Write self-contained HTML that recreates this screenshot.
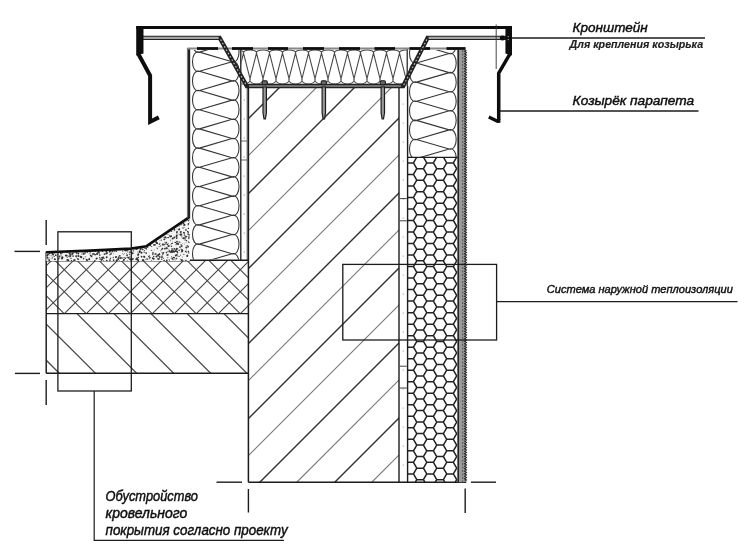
<!DOCTYPE html>
<html lang="ru">
<head>
<meta charset="utf-8">
<title>Узел парапета</title>
<style>
html,body{margin:0;padding:0;background:#fff;}
body{width:750px;height:553px;overflow:hidden;font-family:"Liberation Sans",sans-serif;}
svg{display:block;}
</style>
</head>
<body>
<svg width="750" height="553" viewBox="0 0 750 553" stroke-linecap="butt">
<defs>
<clipPath id="cw"><path d="M248.4 85.5H399.0V482.2H248.4Z"/></clipPath>
<clipPath id="cs"><path d="M46.2 313.6H248.4V373.2H46.2Z"/></clipPath>
<clipPath id="cx"><path d="M46.2 261.0H248.4V313.6H46.2Z"/></clipPath>
<clipPath id="ch"><path d="M407.4 157.4H457.2V482.2H407.4Z"/></clipPath>
<clipPath id="cwl"><path d="M191.5 50H240.0V259.5H191.5Z"/></clipPath>
<clipPath id="cwr"><path d="M408.5 50H457.2V157H408.5Z"/></clipPath>
<clipPath id="cwt"><path d="M241.5 49H406.5V85H241.5Z"/></clipPath>
<clipPath id="csc"><path d="M46.2 252.5 L131 249.5 L147 247 L189.5 218.5 L189.5 261.0 L46.2 261.0 Z"/></clipPath>
<filter id="soft" x="-2%" y="-2%" width="104%" height="104%"><feGaussianBlur stdDeviation="0.55"/></filter>
</defs>
<rect width="750" height="553" fill="#ffffff"/>
<g filter="url(#soft)">
<g clip-path="url(#cw)">
<line x1="-308.00" y1="600.00" x2="292.00" y2="0.00" stroke="#333" stroke-width="1.45" />
<line x1="-271.00" y1="600.00" x2="329.00" y2="0.00" stroke="#787878" stroke-width="1.2" />
<line x1="-233.00" y1="600.00" x2="367.00" y2="0.00" stroke="#333" stroke-width="1.45" />
<line x1="-196.00" y1="600.00" x2="404.00" y2="0.00" stroke="#787878" stroke-width="1.2" />
<line x1="-158.00" y1="600.00" x2="442.00" y2="0.00" stroke="#333" stroke-width="1.45" />
<line x1="-121.00" y1="600.00" x2="479.00" y2="0.00" stroke="#787878" stroke-width="1.2" />
<line x1="-83.00" y1="600.00" x2="517.00" y2="0.00" stroke="#333" stroke-width="1.45" />
<line x1="-46.00" y1="600.00" x2="554.00" y2="0.00" stroke="#787878" stroke-width="1.2" />
<line x1="-8.00" y1="600.00" x2="592.00" y2="0.00" stroke="#333" stroke-width="1.45" />
<line x1="29.00" y1="600.00" x2="629.00" y2="0.00" stroke="#787878" stroke-width="1.2" />
<line x1="67.00" y1="600.00" x2="667.00" y2="0.00" stroke="#333" stroke-width="1.45" />
<line x1="104.00" y1="600.00" x2="704.00" y2="0.00" stroke="#787878" stroke-width="1.2" />
<line x1="142.00" y1="600.00" x2="742.00" y2="0.00" stroke="#333" stroke-width="1.45" />
<line x1="179.00" y1="600.00" x2="779.00" y2="0.00" stroke="#787878" stroke-width="1.2" />
<line x1="217.00" y1="600.00" x2="817.00" y2="0.00" stroke="#333" stroke-width="1.45" />
<line x1="254.00" y1="600.00" x2="854.00" y2="0.00" stroke="#787878" stroke-width="1.2" />
<line x1="292.00" y1="600.00" x2="892.00" y2="0.00" stroke="#333" stroke-width="1.45" />
<line x1="329.00" y1="600.00" x2="929.00" y2="0.00" stroke="#787878" stroke-width="1.2" />
<line x1="367.00" y1="600.00" x2="967.00" y2="0.00" stroke="#333" stroke-width="1.45" />
<line x1="404.00" y1="600.00" x2="1004.00" y2="0.00" stroke="#787878" stroke-width="1.2" />
</g>
<g clip-path="url(#cs)">
<line x1="-20.40" y1="293.60" x2="79.60" y2="393.60" stroke="#484848" stroke-width="1.25" />
<line x1="15.80" y1="293.60" x2="115.80" y2="393.60" stroke="#484848" stroke-width="1.25" />
<line x1="57.00" y1="293.60" x2="157.00" y2="393.60" stroke="#484848" stroke-width="1.25" />
<line x1="94.00" y1="293.60" x2="194.00" y2="393.60" stroke="#484848" stroke-width="1.25" />
<line x1="131.00" y1="293.60" x2="231.00" y2="393.60" stroke="#484848" stroke-width="1.25" />
<line x1="167.20" y1="293.60" x2="267.20" y2="393.60" stroke="#484848" stroke-width="1.25" />
<line x1="204.00" y1="293.60" x2="304.00" y2="393.60" stroke="#484848" stroke-width="1.25" />
</g>
<g clip-path="url(#cx)">
<line x1="-110.00" y1="400.00" x2="90.00" y2="200.00" stroke="#444" stroke-width="1.1" />
<line x1="-71.50" y1="200.00" x2="128.50" y2="400.00" stroke="#444" stroke-width="1.1" />
<line x1="-88.00" y1="400.00" x2="112.00" y2="200.00" stroke="#444" stroke-width="1.1" />
<line x1="-49.50" y1="200.00" x2="150.50" y2="400.00" stroke="#444" stroke-width="1.1" />
<line x1="-66.00" y1="400.00" x2="134.00" y2="200.00" stroke="#444" stroke-width="1.1" />
<line x1="-27.50" y1="200.00" x2="172.50" y2="400.00" stroke="#444" stroke-width="1.1" />
<line x1="-44.00" y1="400.00" x2="156.00" y2="200.00" stroke="#444" stroke-width="1.1" />
<line x1="-5.50" y1="200.00" x2="194.50" y2="400.00" stroke="#444" stroke-width="1.1" />
<line x1="-22.00" y1="400.00" x2="178.00" y2="200.00" stroke="#444" stroke-width="1.1" />
<line x1="16.50" y1="200.00" x2="216.50" y2="400.00" stroke="#444" stroke-width="1.1" />
<line x1="0.00" y1="400.00" x2="200.00" y2="200.00" stroke="#444" stroke-width="1.1" />
<line x1="38.50" y1="200.00" x2="238.50" y2="400.00" stroke="#444" stroke-width="1.1" />
<line x1="22.00" y1="400.00" x2="222.00" y2="200.00" stroke="#444" stroke-width="1.1" />
<line x1="60.50" y1="200.00" x2="260.50" y2="400.00" stroke="#444" stroke-width="1.1" />
<line x1="44.00" y1="400.00" x2="244.00" y2="200.00" stroke="#444" stroke-width="1.1" />
<line x1="82.50" y1="200.00" x2="282.50" y2="400.00" stroke="#444" stroke-width="1.1" />
<line x1="66.00" y1="400.00" x2="266.00" y2="200.00" stroke="#444" stroke-width="1.1" />
<line x1="104.50" y1="200.00" x2="304.50" y2="400.00" stroke="#444" stroke-width="1.1" />
<line x1="88.00" y1="400.00" x2="288.00" y2="200.00" stroke="#444" stroke-width="1.1" />
<line x1="126.50" y1="200.00" x2="326.50" y2="400.00" stroke="#444" stroke-width="1.1" />
<line x1="110.00" y1="400.00" x2="310.00" y2="200.00" stroke="#444" stroke-width="1.1" />
<line x1="148.50" y1="200.00" x2="348.50" y2="400.00" stroke="#444" stroke-width="1.1" />
<line x1="132.00" y1="400.00" x2="332.00" y2="200.00" stroke="#444" stroke-width="1.1" />
<line x1="170.50" y1="200.00" x2="370.50" y2="400.00" stroke="#444" stroke-width="1.1" />
<line x1="154.00" y1="400.00" x2="354.00" y2="200.00" stroke="#444" stroke-width="1.1" />
<line x1="192.50" y1="200.00" x2="392.50" y2="400.00" stroke="#444" stroke-width="1.1" />
<line x1="176.00" y1="400.00" x2="376.00" y2="200.00" stroke="#444" stroke-width="1.1" />
<line x1="214.50" y1="200.00" x2="414.50" y2="400.00" stroke="#444" stroke-width="1.1" />
<line x1="198.00" y1="400.00" x2="398.00" y2="200.00" stroke="#444" stroke-width="1.1" />
<line x1="236.50" y1="200.00" x2="436.50" y2="400.00" stroke="#444" stroke-width="1.1" />
<line x1="220.00" y1="400.00" x2="420.00" y2="200.00" stroke="#444" stroke-width="1.1" />
<line x1="258.50" y1="200.00" x2="458.50" y2="400.00" stroke="#444" stroke-width="1.1" />
<line x1="242.00" y1="400.00" x2="442.00" y2="200.00" stroke="#444" stroke-width="1.1" />
<line x1="280.50" y1="200.00" x2="480.50" y2="400.00" stroke="#444" stroke-width="1.1" />
</g>
<g clip-path="url(#ch)" stroke="#222" stroke-width="1.5" fill="none" stroke-linejoin="round">
<path d="M406.80 139.86L403.48 145.62L396.83 145.62L393.50 139.86L396.83 134.10L403.48 134.10ZM406.80 151.38L403.48 157.14L396.83 157.14L393.50 151.38L396.83 145.62L403.48 145.62ZM406.80 162.90L403.48 168.66L396.83 168.66L393.50 162.90L396.83 157.14L403.48 157.14ZM406.80 174.42L403.48 180.18L396.83 180.18L393.50 174.42L396.83 168.66L403.48 168.66ZM406.80 185.94L403.48 191.70L396.83 191.70L393.50 185.94L396.83 180.18L403.48 180.18ZM406.80 197.45L403.48 203.21L396.83 203.21L393.50 197.45L396.83 191.70L403.48 191.70ZM406.80 208.97L403.48 214.73L396.83 214.73L393.50 208.97L396.83 203.21L403.48 203.21ZM406.80 220.49L403.48 226.25L396.83 226.25L393.50 220.49L396.83 214.73L403.48 214.73ZM406.80 232.01L403.48 237.77L396.83 237.77L393.50 232.01L396.83 226.25L403.48 226.25ZM406.80 243.53L403.48 249.29L396.83 249.29L393.50 243.53L396.83 237.77L403.48 237.77ZM406.80 255.05L403.48 260.80L396.83 260.80L393.50 255.05L396.83 249.29L403.48 249.29ZM406.80 266.56L403.48 272.32L396.83 272.32L393.50 266.56L396.83 260.80L403.48 260.80ZM406.80 278.08L403.48 283.84L396.83 283.84L393.50 278.08L396.83 272.32L403.48 272.32ZM406.80 289.60L403.48 295.36L396.83 295.36L393.50 289.60L396.83 283.84L403.48 283.84ZM406.80 301.12L403.48 306.88L396.83 306.88L393.50 301.12L396.83 295.36L403.48 295.36ZM406.80 312.64L403.48 318.39L396.83 318.39L393.50 312.64L396.83 306.88L403.48 306.88ZM406.80 324.15L403.48 329.91L396.83 329.91L393.50 324.15L396.83 318.39L403.48 318.39ZM406.80 335.67L403.48 341.43L396.83 341.43L393.50 335.67L396.83 329.91L403.48 329.91ZM406.80 347.19L403.48 352.95L396.83 352.95L393.50 347.19L396.83 341.43L403.48 341.43ZM406.80 358.71L403.48 364.47L396.83 364.47L393.50 358.71L396.83 352.95L403.48 352.95ZM406.80 370.23L403.48 375.99L396.83 375.99L393.50 370.23L396.83 364.47L403.48 364.47ZM406.80 381.74L403.48 387.50L396.83 387.50L393.50 381.74L396.83 375.99L403.48 375.99ZM406.80 393.26L403.48 399.02L396.83 399.02L393.50 393.26L396.83 387.50L403.48 387.50ZM406.80 404.78L403.48 410.54L396.83 410.54L393.50 404.78L396.83 399.02L403.48 399.02ZM406.80 416.30L403.48 422.06L396.83 422.06L393.50 416.30L396.83 410.54L403.48 410.54ZM406.80 427.82L403.48 433.58L396.83 433.58L393.50 427.82L396.83 422.06L403.48 422.06ZM406.80 439.34L403.48 445.09L396.83 445.09L393.50 439.34L396.83 433.58L403.48 433.58ZM406.80 450.85L403.48 456.61L396.83 456.61L393.50 450.85L396.83 445.09L403.48 445.09ZM406.80 462.37L403.48 468.13L396.83 468.13L393.50 462.37L396.83 456.61L403.48 456.61ZM406.80 473.89L403.48 479.65L396.83 479.65L393.50 473.89L396.83 468.13L403.48 468.13ZM406.80 485.41L403.48 491.17L396.83 491.17L393.50 485.41L396.83 479.65L403.48 479.65ZM406.80 496.93L403.48 502.69L396.83 502.69L393.50 496.93L396.83 491.17L403.48 491.17ZM416.77 145.62L413.45 151.38L406.80 151.38L403.48 145.62L406.80 139.86L413.45 139.86ZM416.77 157.14L413.45 162.90L406.80 162.90L403.48 157.14L406.80 151.38L413.45 151.38ZM416.77 168.66L413.45 174.42L406.80 174.42L403.48 168.66L406.80 162.90L413.45 162.90ZM416.77 180.18L413.45 185.94L406.80 185.94L403.48 180.18L406.80 174.42L413.45 174.42ZM416.77 191.70L413.45 197.45L406.80 197.45L403.48 191.70L406.80 185.94L413.45 185.94ZM416.77 203.21L413.45 208.97L406.80 208.97L403.48 203.21L406.80 197.45L413.45 197.45ZM416.77 214.73L413.45 220.49L406.80 220.49L403.48 214.73L406.80 208.97L413.45 208.97ZM416.77 226.25L413.45 232.01L406.80 232.01L403.48 226.25L406.80 220.49L413.45 220.49ZM416.77 237.77L413.45 243.53L406.80 243.53L403.48 237.77L406.80 232.01L413.45 232.01ZM416.77 249.29L413.45 255.05L406.80 255.05L403.48 249.29L406.80 243.53L413.45 243.53ZM416.77 260.80L413.45 266.56L406.80 266.56L403.48 260.80L406.80 255.05L413.45 255.05ZM416.77 272.32L413.45 278.08L406.80 278.08L403.48 272.32L406.80 266.56L413.45 266.56ZM416.77 283.84L413.45 289.60L406.80 289.60L403.48 283.84L406.80 278.08L413.45 278.08ZM416.77 295.36L413.45 301.12L406.80 301.12L403.48 295.36L406.80 289.60L413.45 289.60ZM416.77 306.88L413.45 312.64L406.80 312.64L403.48 306.88L406.80 301.12L413.45 301.12ZM416.77 318.39L413.45 324.15L406.80 324.15L403.48 318.39L406.80 312.64L413.45 312.64ZM416.77 329.91L413.45 335.67L406.80 335.67L403.48 329.91L406.80 324.15L413.45 324.15ZM416.77 341.43L413.45 347.19L406.80 347.19L403.48 341.43L406.80 335.67L413.45 335.67ZM416.77 352.95L413.45 358.71L406.80 358.71L403.48 352.95L406.80 347.19L413.45 347.19ZM416.77 364.47L413.45 370.23L406.80 370.23L403.48 364.47L406.80 358.71L413.45 358.71ZM416.77 375.99L413.45 381.74L406.80 381.74L403.48 375.99L406.80 370.23L413.45 370.23ZM416.77 387.50L413.45 393.26L406.80 393.26L403.48 387.50L406.80 381.74L413.45 381.74ZM416.77 399.02L413.45 404.78L406.80 404.78L403.48 399.02L406.80 393.26L413.45 393.26ZM416.77 410.54L413.45 416.30L406.80 416.30L403.48 410.54L406.80 404.78L413.45 404.78ZM416.77 422.06L413.45 427.82L406.80 427.82L403.48 422.06L406.80 416.30L413.45 416.30ZM416.77 433.58L413.45 439.34L406.80 439.34L403.48 433.58L406.80 427.82L413.45 427.82ZM416.77 445.09L413.45 450.85L406.80 450.85L403.48 445.09L406.80 439.34L413.45 439.34ZM416.77 456.61L413.45 462.37L406.80 462.37L403.48 456.61L406.80 450.85L413.45 450.85ZM416.77 468.13L413.45 473.89L406.80 473.89L403.48 468.13L406.80 462.37L413.45 462.37ZM416.77 479.65L413.45 485.41L406.80 485.41L403.48 479.65L406.80 473.89L413.45 473.89ZM416.77 491.17L413.45 496.93L406.80 496.93L403.48 491.17L406.80 485.41L413.45 485.41ZM416.77 502.69L413.45 508.44L406.80 508.44L403.48 502.69L406.80 496.93L413.45 496.93ZM426.75 139.86L423.43 145.62L416.78 145.62L413.45 139.86L416.78 134.10L423.43 134.10ZM426.75 151.38L423.43 157.14L416.78 157.14L413.45 151.38L416.78 145.62L423.43 145.62ZM426.75 162.90L423.43 168.66L416.78 168.66L413.45 162.90L416.78 157.14L423.43 157.14ZM426.75 174.42L423.43 180.18L416.78 180.18L413.45 174.42L416.78 168.66L423.43 168.66ZM426.75 185.94L423.43 191.70L416.78 191.70L413.45 185.94L416.78 180.18L423.43 180.18ZM426.75 197.45L423.43 203.21L416.78 203.21L413.45 197.45L416.78 191.70L423.43 191.70ZM426.75 208.97L423.43 214.73L416.78 214.73L413.45 208.97L416.78 203.21L423.43 203.21ZM426.75 220.49L423.43 226.25L416.78 226.25L413.45 220.49L416.78 214.73L423.43 214.73ZM426.75 232.01L423.43 237.77L416.78 237.77L413.45 232.01L416.78 226.25L423.43 226.25ZM426.75 243.53L423.43 249.29L416.78 249.29L413.45 243.53L416.78 237.77L423.43 237.77ZM426.75 255.05L423.43 260.80L416.78 260.80L413.45 255.05L416.78 249.29L423.43 249.29ZM426.75 266.56L423.43 272.32L416.78 272.32L413.45 266.56L416.78 260.80L423.43 260.80ZM426.75 278.08L423.43 283.84L416.78 283.84L413.45 278.08L416.78 272.32L423.43 272.32ZM426.75 289.60L423.43 295.36L416.78 295.36L413.45 289.60L416.78 283.84L423.43 283.84ZM426.75 301.12L423.43 306.88L416.78 306.88L413.45 301.12L416.78 295.36L423.43 295.36ZM426.75 312.64L423.43 318.39L416.78 318.39L413.45 312.64L416.78 306.88L423.43 306.88ZM426.75 324.15L423.43 329.91L416.78 329.91L413.45 324.15L416.78 318.39L423.43 318.39ZM426.75 335.67L423.43 341.43L416.78 341.43L413.45 335.67L416.78 329.91L423.43 329.91ZM426.75 347.19L423.43 352.95L416.78 352.95L413.45 347.19L416.78 341.43L423.43 341.43ZM426.75 358.71L423.43 364.47L416.78 364.47L413.45 358.71L416.78 352.95L423.43 352.95ZM426.75 370.23L423.43 375.99L416.78 375.99L413.45 370.23L416.78 364.47L423.43 364.47ZM426.75 381.74L423.43 387.50L416.78 387.50L413.45 381.74L416.78 375.99L423.43 375.99ZM426.75 393.26L423.43 399.02L416.78 399.02L413.45 393.26L416.78 387.50L423.43 387.50ZM426.75 404.78L423.43 410.54L416.78 410.54L413.45 404.78L416.78 399.02L423.43 399.02ZM426.75 416.30L423.43 422.06L416.78 422.06L413.45 416.30L416.78 410.54L423.43 410.54ZM426.75 427.82L423.43 433.58L416.78 433.58L413.45 427.82L416.78 422.06L423.43 422.06ZM426.75 439.34L423.43 445.09L416.78 445.09L413.45 439.34L416.78 433.58L423.43 433.58ZM426.75 450.85L423.43 456.61L416.78 456.61L413.45 450.85L416.78 445.09L423.43 445.09ZM426.75 462.37L423.43 468.13L416.78 468.13L413.45 462.37L416.78 456.61L423.43 456.61ZM426.75 473.89L423.43 479.65L416.78 479.65L413.45 473.89L416.78 468.13L423.43 468.13ZM426.75 485.41L423.43 491.17L416.78 491.17L413.45 485.41L416.78 479.65L423.43 479.65ZM426.75 496.93L423.43 502.69L416.78 502.69L413.45 496.93L416.78 491.17L423.43 491.17ZM436.73 145.62L433.40 151.38L426.75 151.38L423.43 145.62L426.75 139.86L433.40 139.86ZM436.73 157.14L433.40 162.90L426.75 162.90L423.43 157.14L426.75 151.38L433.40 151.38ZM436.73 168.66L433.40 174.42L426.75 174.42L423.43 168.66L426.75 162.90L433.40 162.90ZM436.73 180.18L433.40 185.94L426.75 185.94L423.43 180.18L426.75 174.42L433.40 174.42ZM436.73 191.70L433.40 197.45L426.75 197.45L423.43 191.70L426.75 185.94L433.40 185.94ZM436.73 203.21L433.40 208.97L426.75 208.97L423.43 203.21L426.75 197.45L433.40 197.45ZM436.73 214.73L433.40 220.49L426.75 220.49L423.43 214.73L426.75 208.97L433.40 208.97ZM436.73 226.25L433.40 232.01L426.75 232.01L423.43 226.25L426.75 220.49L433.40 220.49ZM436.73 237.77L433.40 243.53L426.75 243.53L423.43 237.77L426.75 232.01L433.40 232.01ZM436.73 249.29L433.40 255.05L426.75 255.05L423.43 249.29L426.75 243.53L433.40 243.53ZM436.73 260.80L433.40 266.56L426.75 266.56L423.43 260.80L426.75 255.05L433.40 255.05ZM436.73 272.32L433.40 278.08L426.75 278.08L423.43 272.32L426.75 266.56L433.40 266.56ZM436.73 283.84L433.40 289.60L426.75 289.60L423.43 283.84L426.75 278.08L433.40 278.08ZM436.73 295.36L433.40 301.12L426.75 301.12L423.43 295.36L426.75 289.60L433.40 289.60ZM436.73 306.88L433.40 312.64L426.75 312.64L423.43 306.88L426.75 301.12L433.40 301.12ZM436.73 318.39L433.40 324.15L426.75 324.15L423.43 318.39L426.75 312.64L433.40 312.64ZM436.73 329.91L433.40 335.67L426.75 335.67L423.43 329.91L426.75 324.15L433.40 324.15ZM436.73 341.43L433.40 347.19L426.75 347.19L423.43 341.43L426.75 335.67L433.40 335.67ZM436.73 352.95L433.40 358.71L426.75 358.71L423.43 352.95L426.75 347.19L433.40 347.19ZM436.73 364.47L433.40 370.23L426.75 370.23L423.43 364.47L426.75 358.71L433.40 358.71ZM436.73 375.99L433.40 381.74L426.75 381.74L423.43 375.99L426.75 370.23L433.40 370.23ZM436.73 387.50L433.40 393.26L426.75 393.26L423.43 387.50L426.75 381.74L433.40 381.74ZM436.73 399.02L433.40 404.78L426.75 404.78L423.43 399.02L426.75 393.26L433.40 393.26ZM436.73 410.54L433.40 416.30L426.75 416.30L423.43 410.54L426.75 404.78L433.40 404.78ZM436.73 422.06L433.40 427.82L426.75 427.82L423.43 422.06L426.75 416.30L433.40 416.30ZM436.73 433.58L433.40 439.34L426.75 439.34L423.43 433.58L426.75 427.82L433.40 427.82ZM436.73 445.09L433.40 450.85L426.75 450.85L423.43 445.09L426.75 439.34L433.40 439.34ZM436.73 456.61L433.40 462.37L426.75 462.37L423.43 456.61L426.75 450.85L433.40 450.85ZM436.73 468.13L433.40 473.89L426.75 473.89L423.43 468.13L426.75 462.37L433.40 462.37ZM436.73 479.65L433.40 485.41L426.75 485.41L423.43 479.65L426.75 473.89L433.40 473.89ZM436.73 491.17L433.40 496.93L426.75 496.93L423.43 491.17L426.75 485.41L433.40 485.41ZM436.73 502.69L433.40 508.44L426.75 508.44L423.43 502.69L426.75 496.93L433.40 496.93ZM446.70 139.86L443.38 145.62L436.73 145.62L433.40 139.86L436.73 134.10L443.38 134.10ZM446.70 151.38L443.38 157.14L436.73 157.14L433.40 151.38L436.73 145.62L443.38 145.62ZM446.70 162.90L443.38 168.66L436.73 168.66L433.40 162.90L436.73 157.14L443.38 157.14ZM446.70 174.42L443.38 180.18L436.73 180.18L433.40 174.42L436.73 168.66L443.38 168.66ZM446.70 185.94L443.38 191.70L436.73 191.70L433.40 185.94L436.73 180.18L443.38 180.18ZM446.70 197.45L443.38 203.21L436.73 203.21L433.40 197.45L436.73 191.70L443.38 191.70ZM446.70 208.97L443.38 214.73L436.73 214.73L433.40 208.97L436.73 203.21L443.38 203.21ZM446.70 220.49L443.38 226.25L436.73 226.25L433.40 220.49L436.73 214.73L443.38 214.73ZM446.70 232.01L443.38 237.77L436.73 237.77L433.40 232.01L436.73 226.25L443.38 226.25ZM446.70 243.53L443.38 249.29L436.73 249.29L433.40 243.53L436.73 237.77L443.38 237.77ZM446.70 255.05L443.38 260.80L436.73 260.80L433.40 255.05L436.73 249.29L443.38 249.29ZM446.70 266.56L443.38 272.32L436.73 272.32L433.40 266.56L436.73 260.80L443.38 260.80ZM446.70 278.08L443.38 283.84L436.73 283.84L433.40 278.08L436.73 272.32L443.38 272.32ZM446.70 289.60L443.38 295.36L436.73 295.36L433.40 289.60L436.73 283.84L443.38 283.84ZM446.70 301.12L443.38 306.88L436.73 306.88L433.40 301.12L436.73 295.36L443.38 295.36ZM446.70 312.64L443.38 318.39L436.73 318.39L433.40 312.64L436.73 306.88L443.38 306.88ZM446.70 324.15L443.38 329.91L436.73 329.91L433.40 324.15L436.73 318.39L443.38 318.39ZM446.70 335.67L443.38 341.43L436.73 341.43L433.40 335.67L436.73 329.91L443.38 329.91ZM446.70 347.19L443.38 352.95L436.73 352.95L433.40 347.19L436.73 341.43L443.38 341.43ZM446.70 358.71L443.38 364.47L436.73 364.47L433.40 358.71L436.73 352.95L443.38 352.95ZM446.70 370.23L443.38 375.99L436.73 375.99L433.40 370.23L436.73 364.47L443.38 364.47ZM446.70 381.74L443.38 387.50L436.73 387.50L433.40 381.74L436.73 375.99L443.38 375.99ZM446.70 393.26L443.38 399.02L436.73 399.02L433.40 393.26L436.73 387.50L443.38 387.50ZM446.70 404.78L443.38 410.54L436.73 410.54L433.40 404.78L436.73 399.02L443.38 399.02ZM446.70 416.30L443.38 422.06L436.73 422.06L433.40 416.30L436.73 410.54L443.38 410.54ZM446.70 427.82L443.38 433.58L436.73 433.58L433.40 427.82L436.73 422.06L443.38 422.06ZM446.70 439.34L443.38 445.09L436.73 445.09L433.40 439.34L436.73 433.58L443.38 433.58ZM446.70 450.85L443.38 456.61L436.73 456.61L433.40 450.85L436.73 445.09L443.38 445.09ZM446.70 462.37L443.38 468.13L436.73 468.13L433.40 462.37L436.73 456.61L443.38 456.61ZM446.70 473.89L443.38 479.65L436.73 479.65L433.40 473.89L436.73 468.13L443.38 468.13ZM446.70 485.41L443.38 491.17L436.73 491.17L433.40 485.41L436.73 479.65L443.38 479.65ZM446.70 496.93L443.38 502.69L436.73 502.69L433.40 496.93L436.73 491.17L443.38 491.17ZM456.68 145.62L453.35 151.38L446.70 151.38L443.38 145.62L446.70 139.86L453.35 139.86ZM456.68 157.14L453.35 162.90L446.70 162.90L443.38 157.14L446.70 151.38L453.35 151.38ZM456.68 168.66L453.35 174.42L446.70 174.42L443.38 168.66L446.70 162.90L453.35 162.90ZM456.68 180.18L453.35 185.94L446.70 185.94L443.38 180.18L446.70 174.42L453.35 174.42ZM456.68 191.70L453.35 197.45L446.70 197.45L443.38 191.70L446.70 185.94L453.35 185.94ZM456.68 203.21L453.35 208.97L446.70 208.97L443.38 203.21L446.70 197.45L453.35 197.45ZM456.68 214.73L453.35 220.49L446.70 220.49L443.38 214.73L446.70 208.97L453.35 208.97ZM456.68 226.25L453.35 232.01L446.70 232.01L443.38 226.25L446.70 220.49L453.35 220.49ZM456.68 237.77L453.35 243.53L446.70 243.53L443.38 237.77L446.70 232.01L453.35 232.01ZM456.68 249.29L453.35 255.05L446.70 255.05L443.38 249.29L446.70 243.53L453.35 243.53ZM456.68 260.80L453.35 266.56L446.70 266.56L443.38 260.80L446.70 255.05L453.35 255.05ZM456.68 272.32L453.35 278.08L446.70 278.08L443.38 272.32L446.70 266.56L453.35 266.56ZM456.68 283.84L453.35 289.60L446.70 289.60L443.38 283.84L446.70 278.08L453.35 278.08ZM456.68 295.36L453.35 301.12L446.70 301.12L443.38 295.36L446.70 289.60L453.35 289.60ZM456.68 306.88L453.35 312.64L446.70 312.64L443.38 306.88L446.70 301.12L453.35 301.12ZM456.68 318.39L453.35 324.15L446.70 324.15L443.38 318.39L446.70 312.64L453.35 312.64ZM456.68 329.91L453.35 335.67L446.70 335.67L443.38 329.91L446.70 324.15L453.35 324.15ZM456.68 341.43L453.35 347.19L446.70 347.19L443.38 341.43L446.70 335.67L453.35 335.67ZM456.68 352.95L453.35 358.71L446.70 358.71L443.38 352.95L446.70 347.19L453.35 347.19ZM456.68 364.47L453.35 370.23L446.70 370.23L443.38 364.47L446.70 358.71L453.35 358.71ZM456.68 375.99L453.35 381.74L446.70 381.74L443.38 375.99L446.70 370.23L453.35 370.23ZM456.68 387.50L453.35 393.26L446.70 393.26L443.38 387.50L446.70 381.74L453.35 381.74ZM456.68 399.02L453.35 404.78L446.70 404.78L443.38 399.02L446.70 393.26L453.35 393.26ZM456.68 410.54L453.35 416.30L446.70 416.30L443.38 410.54L446.70 404.78L453.35 404.78ZM456.68 422.06L453.35 427.82L446.70 427.82L443.38 422.06L446.70 416.30L453.35 416.30ZM456.68 433.58L453.35 439.34L446.70 439.34L443.38 433.58L446.70 427.82L453.35 427.82ZM456.68 445.09L453.35 450.85L446.70 450.85L443.38 445.09L446.70 439.34L453.35 439.34ZM456.68 456.61L453.35 462.37L446.70 462.37L443.38 456.61L446.70 450.85L453.35 450.85ZM456.68 468.13L453.35 473.89L446.70 473.89L443.38 468.13L446.70 462.37L453.35 462.37ZM456.68 479.65L453.35 485.41L446.70 485.41L443.38 479.65L446.70 473.89L453.35 473.89ZM456.68 491.17L453.35 496.93L446.70 496.93L443.38 491.17L446.70 485.41L453.35 485.41ZM456.68 502.69L453.35 508.44L446.70 508.44L443.38 502.69L446.70 496.93L453.35 496.93ZM466.65 139.86L463.32 145.62L456.68 145.62L453.35 139.86L456.68 134.10L463.32 134.10ZM466.65 151.38L463.32 157.14L456.68 157.14L453.35 151.38L456.68 145.62L463.32 145.62ZM466.65 162.90L463.32 168.66L456.68 168.66L453.35 162.90L456.68 157.14L463.32 157.14ZM466.65 174.42L463.32 180.18L456.68 180.18L453.35 174.42L456.68 168.66L463.32 168.66ZM466.65 185.94L463.32 191.70L456.68 191.70L453.35 185.94L456.68 180.18L463.32 180.18ZM466.65 197.45L463.32 203.21L456.68 203.21L453.35 197.45L456.68 191.70L463.32 191.70ZM466.65 208.97L463.32 214.73L456.68 214.73L453.35 208.97L456.68 203.21L463.32 203.21ZM466.65 220.49L463.32 226.25L456.68 226.25L453.35 220.49L456.68 214.73L463.32 214.73ZM466.65 232.01L463.32 237.77L456.68 237.77L453.35 232.01L456.68 226.25L463.32 226.25ZM466.65 243.53L463.32 249.29L456.68 249.29L453.35 243.53L456.68 237.77L463.32 237.77ZM466.65 255.05L463.32 260.80L456.68 260.80L453.35 255.05L456.68 249.29L463.32 249.29ZM466.65 266.56L463.32 272.32L456.68 272.32L453.35 266.56L456.68 260.80L463.32 260.80ZM466.65 278.08L463.32 283.84L456.68 283.84L453.35 278.08L456.68 272.32L463.32 272.32ZM466.65 289.60L463.32 295.36L456.68 295.36L453.35 289.60L456.68 283.84L463.32 283.84ZM466.65 301.12L463.32 306.88L456.68 306.88L453.35 301.12L456.68 295.36L463.32 295.36ZM466.65 312.64L463.32 318.39L456.68 318.39L453.35 312.64L456.68 306.88L463.32 306.88ZM466.65 324.15L463.32 329.91L456.68 329.91L453.35 324.15L456.68 318.39L463.32 318.39ZM466.65 335.67L463.32 341.43L456.68 341.43L453.35 335.67L456.68 329.91L463.32 329.91ZM466.65 347.19L463.32 352.95L456.68 352.95L453.35 347.19L456.68 341.43L463.32 341.43ZM466.65 358.71L463.32 364.47L456.68 364.47L453.35 358.71L456.68 352.95L463.32 352.95ZM466.65 370.23L463.32 375.99L456.68 375.99L453.35 370.23L456.68 364.47L463.32 364.47ZM466.65 381.74L463.32 387.50L456.68 387.50L453.35 381.74L456.68 375.99L463.32 375.99ZM466.65 393.26L463.32 399.02L456.68 399.02L453.35 393.26L456.68 387.50L463.32 387.50ZM466.65 404.78L463.32 410.54L456.68 410.54L453.35 404.78L456.68 399.02L463.32 399.02ZM466.65 416.30L463.32 422.06L456.68 422.06L453.35 416.30L456.68 410.54L463.32 410.54ZM466.65 427.82L463.32 433.58L456.68 433.58L453.35 427.82L456.68 422.06L463.32 422.06ZM466.65 439.34L463.32 445.09L456.68 445.09L453.35 439.34L456.68 433.58L463.32 433.58ZM466.65 450.85L463.32 456.61L456.68 456.61L453.35 450.85L456.68 445.09L463.32 445.09ZM466.65 462.37L463.32 468.13L456.68 468.13L453.35 462.37L456.68 456.61L463.32 456.61ZM466.65 473.89L463.32 479.65L456.68 479.65L453.35 473.89L456.68 468.13L463.32 468.13ZM466.65 485.41L463.32 491.17L456.68 491.17L453.35 485.41L456.68 479.65L463.32 479.65ZM466.65 496.93L463.32 502.69L456.68 502.69L453.35 496.93L456.68 491.17L463.32 491.17ZM476.62 145.62L473.30 151.38L466.65 151.38L463.33 145.62L466.65 139.86L473.30 139.86ZM476.62 157.14L473.30 162.90L466.65 162.90L463.33 157.14L466.65 151.38L473.30 151.38ZM476.62 168.66L473.30 174.42L466.65 174.42L463.33 168.66L466.65 162.90L473.30 162.90ZM476.62 180.18L473.30 185.94L466.65 185.94L463.33 180.18L466.65 174.42L473.30 174.42ZM476.62 191.70L473.30 197.45L466.65 197.45L463.33 191.70L466.65 185.94L473.30 185.94ZM476.62 203.21L473.30 208.97L466.65 208.97L463.33 203.21L466.65 197.45L473.30 197.45ZM476.62 214.73L473.30 220.49L466.65 220.49L463.33 214.73L466.65 208.97L473.30 208.97ZM476.62 226.25L473.30 232.01L466.65 232.01L463.33 226.25L466.65 220.49L473.30 220.49ZM476.62 237.77L473.30 243.53L466.65 243.53L463.33 237.77L466.65 232.01L473.30 232.01ZM476.62 249.29L473.30 255.05L466.65 255.05L463.33 249.29L466.65 243.53L473.30 243.53ZM476.62 260.80L473.30 266.56L466.65 266.56L463.33 260.80L466.65 255.05L473.30 255.05ZM476.62 272.32L473.30 278.08L466.65 278.08L463.33 272.32L466.65 266.56L473.30 266.56ZM476.62 283.84L473.30 289.60L466.65 289.60L463.33 283.84L466.65 278.08L473.30 278.08ZM476.62 295.36L473.30 301.12L466.65 301.12L463.33 295.36L466.65 289.60L473.30 289.60ZM476.62 306.88L473.30 312.64L466.65 312.64L463.33 306.88L466.65 301.12L473.30 301.12ZM476.62 318.39L473.30 324.15L466.65 324.15L463.33 318.39L466.65 312.64L473.30 312.64ZM476.62 329.91L473.30 335.67L466.65 335.67L463.33 329.91L466.65 324.15L473.30 324.15ZM476.62 341.43L473.30 347.19L466.65 347.19L463.33 341.43L466.65 335.67L473.30 335.67ZM476.62 352.95L473.30 358.71L466.65 358.71L463.33 352.95L466.65 347.19L473.30 347.19ZM476.62 364.47L473.30 370.23L466.65 370.23L463.33 364.47L466.65 358.71L473.30 358.71ZM476.62 375.99L473.30 381.74L466.65 381.74L463.33 375.99L466.65 370.23L473.30 370.23ZM476.62 387.50L473.30 393.26L466.65 393.26L463.33 387.50L466.65 381.74L473.30 381.74ZM476.62 399.02L473.30 404.78L466.65 404.78L463.33 399.02L466.65 393.26L473.30 393.26ZM476.62 410.54L473.30 416.30L466.65 416.30L463.33 410.54L466.65 404.78L473.30 404.78ZM476.62 422.06L473.30 427.82L466.65 427.82L463.33 422.06L466.65 416.30L473.30 416.30ZM476.62 433.58L473.30 439.34L466.65 439.34L463.33 433.58L466.65 427.82L473.30 427.82ZM476.62 445.09L473.30 450.85L466.65 450.85L463.33 445.09L466.65 439.34L473.30 439.34ZM476.62 456.61L473.30 462.37L466.65 462.37L463.33 456.61L466.65 450.85L473.30 450.85ZM476.62 468.13L473.30 473.89L466.65 473.89L463.33 468.13L466.65 462.37L473.30 462.37ZM476.62 479.65L473.30 485.41L466.65 485.41L463.33 479.65L466.65 473.89L473.30 473.89ZM476.62 491.17L473.30 496.93L466.65 496.93L463.33 491.17L466.65 485.41L473.30 485.41ZM476.62 502.69L473.30 508.44L466.65 508.44L463.33 502.69L466.65 496.93L473.30 496.93Z"/>
</g>
<g clip-path="url(#cwl)"><path d="M232.03 4.10L199.47 -5.50C190.17 -8.24 190.17 16.44 199.47 13.70ZM199.47 13.70L232.03 4.10C241.33 1.36 241.33 26.04 232.03 23.30ZM232.03 23.30L199.47 13.70C190.17 10.96 190.17 35.64 199.47 32.90ZM199.47 32.90L232.03 23.30C241.33 20.56 241.33 45.24 232.03 42.50ZM232.03 42.50L199.47 32.90C190.17 30.16 190.17 54.84 199.47 52.10ZM199.47 52.10L232.03 42.50C241.33 39.76 241.33 64.44 232.03 61.70ZM232.03 61.70L199.47 52.10C190.17 49.36 190.17 74.04 199.47 71.30ZM199.47 71.30L232.03 61.70C241.33 58.96 241.33 83.64 232.03 80.90ZM232.03 80.90L199.47 71.30C190.17 68.56 190.17 93.24 199.47 90.50ZM199.47 90.50L232.03 80.90C241.33 78.16 241.33 102.84 232.03 100.10ZM232.03 100.10L199.47 90.50C190.17 87.76 190.17 112.44 199.47 109.70ZM199.47 109.70L232.03 100.10C241.33 97.36 241.33 122.04 232.03 119.30ZM232.03 119.30L199.47 109.70C190.17 106.96 190.17 131.64 199.47 128.90ZM199.47 128.90L232.03 119.30C241.33 116.56 241.33 141.24 232.03 138.50ZM232.03 138.50L199.47 128.90C190.17 126.16 190.17 150.84 199.47 148.10ZM199.47 148.10L232.03 138.50C241.33 135.76 241.33 160.44 232.03 157.70ZM232.03 157.70L199.47 148.10C190.17 145.36 190.17 170.04 199.47 167.30ZM199.47 167.30L232.03 157.70C241.33 154.96 241.33 179.64 232.03 176.90ZM232.03 176.90L199.47 167.30C190.17 164.56 190.17 189.24 199.47 186.50ZM199.47 186.50L232.03 176.90C241.33 174.16 241.33 198.84 232.03 196.10ZM232.03 196.10L199.47 186.50C190.17 183.76 190.17 208.44 199.47 205.70ZM199.47 205.70L232.03 196.10C241.33 193.36 241.33 218.04 232.03 215.30ZM232.03 215.30L199.47 205.70C190.17 202.96 190.17 227.64 199.47 224.90ZM199.47 224.90L232.03 215.30C241.33 212.56 241.33 237.24 232.03 234.50ZM232.03 234.50L199.47 224.90C190.17 222.16 190.17 246.84 199.47 244.10ZM199.47 244.10L232.03 234.50C241.33 231.76 241.33 256.44 232.03 253.70ZM232.03 253.70L199.47 244.10C190.17 241.36 190.17 266.04 199.47 263.30ZM199.47 263.30L232.03 253.70C241.33 250.96 241.33 275.64 232.03 272.90ZM232.03 272.90L199.47 263.30C190.17 260.56 190.17 285.24 199.47 282.50ZM199.47 282.50L232.03 272.90C241.33 270.16 241.33 294.84 232.03 292.10ZM232.03 292.10L199.47 282.50C190.17 279.76 190.17 304.44 199.47 301.70ZM199.47 301.70L232.03 292.10C241.33 289.36 241.33 314.04 232.03 311.30Z" stroke="#383838" stroke-width="1.1" fill="none"/></g>
<g clip-path="url(#cwr)"><path d="M449.19 -3.80L416.50 -13.35C407.17 -16.08 407.17 8.48 416.50 5.75ZM416.50 5.75L449.19 -3.80C458.53 -6.53 458.53 18.03 449.19 15.30ZM449.19 15.30L416.50 5.75C407.17 3.02 407.17 27.58 416.50 24.85ZM416.50 24.85L449.19 15.30C458.53 12.57 458.53 37.13 449.19 34.40ZM449.19 34.40L416.50 24.85C407.17 22.12 407.17 46.68 416.50 43.95ZM416.50 43.95L449.19 34.40C458.53 31.67 458.53 56.23 449.19 53.50ZM449.19 53.50L416.50 43.95C407.17 41.22 407.17 65.78 416.50 63.05ZM416.50 63.05L449.19 53.50C458.53 50.77 458.53 75.33 449.19 72.60ZM449.19 72.60L416.50 63.05C407.17 60.32 407.17 84.88 416.50 82.15ZM416.50 82.15L449.19 72.60C458.53 69.87 458.53 94.43 449.19 91.70ZM449.19 91.70L416.50 82.15C407.17 79.42 407.17 103.98 416.50 101.25ZM416.50 101.25L449.19 91.70C458.53 88.97 458.53 113.53 449.19 110.80ZM449.19 110.80L416.50 101.25C407.17 98.52 407.17 123.08 416.50 120.35ZM416.50 120.35L449.19 110.80C458.53 108.07 458.53 132.63 449.19 129.90ZM449.19 129.90L416.50 120.35C407.17 117.62 407.17 142.18 416.50 139.45ZM416.50 139.45L449.19 129.90C458.53 127.17 458.53 151.73 449.19 149.00ZM449.19 149.00L416.50 139.45C407.17 136.72 407.17 161.28 416.50 158.55ZM416.50 158.55L449.19 149.00C458.53 146.27 458.53 170.83 449.19 168.10ZM449.19 168.10L416.50 158.55C407.17 155.82 407.17 180.38 416.50 177.65ZM416.50 177.65L449.19 168.10C458.53 165.37 458.53 189.93 449.19 187.20ZM449.19 187.20L416.50 177.65C407.17 174.92 407.17 199.48 416.50 196.75ZM416.50 196.75L449.19 187.20C458.53 184.47 458.53 209.03 449.19 206.30Z" stroke="#383838" stroke-width="1.1" fill="none"/></g>
<g clip-path="url(#cwt)"><path d="M211.00 78.60L204.50 53.20C203.41 48.93 218.59 48.93 217.50 53.20ZM217.50 53.20L211.00 78.60C209.16 85.80 225.84 85.80 224.00 78.60ZM224.00 78.60L217.50 53.20C216.41 48.93 231.59 48.93 230.50 53.20ZM230.50 53.20L224.00 78.60C222.16 85.80 238.84 85.80 237.00 78.60ZM237.00 78.60L230.50 53.20C229.41 48.93 244.59 48.93 243.50 53.20ZM243.50 53.20L237.00 78.60C235.16 85.80 251.84 85.80 250.00 78.60ZM250.00 78.60L243.50 53.20C242.41 48.93 257.59 48.93 256.50 53.20ZM256.50 53.20L250.00 78.60C248.16 85.80 264.84 85.80 263.00 78.60ZM263.00 78.60L256.50 53.20C255.41 48.93 270.59 48.93 269.50 53.20ZM269.50 53.20L263.00 78.60C261.16 85.80 277.84 85.80 276.00 78.60ZM276.00 78.60L269.50 53.20C268.41 48.93 283.59 48.93 282.50 53.20ZM282.50 53.20L276.00 78.60C274.16 85.80 290.84 85.80 289.00 78.60ZM289.00 78.60L282.50 53.20C281.41 48.93 296.59 48.93 295.50 53.20ZM295.50 53.20L289.00 78.60C287.16 85.80 303.84 85.80 302.00 78.60ZM302.00 78.60L295.50 53.20C294.41 48.93 309.59 48.93 308.50 53.20ZM308.50 53.20L302.00 78.60C300.16 85.80 316.84 85.80 315.00 78.60ZM315.00 78.60L308.50 53.20C307.41 48.93 322.59 48.93 321.50 53.20ZM321.50 53.20L315.00 78.60C313.16 85.80 329.84 85.80 328.00 78.60ZM328.00 78.60L321.50 53.20C320.41 48.93 335.59 48.93 334.50 53.20ZM334.50 53.20L328.00 78.60C326.16 85.80 342.84 85.80 341.00 78.60ZM341.00 78.60L334.50 53.20C333.41 48.93 348.59 48.93 347.50 53.20ZM347.50 53.20L341.00 78.60C339.16 85.80 355.84 85.80 354.00 78.60ZM354.00 78.60L347.50 53.20C346.41 48.93 361.59 48.93 360.50 53.20ZM360.50 53.20L354.00 78.60C352.16 85.80 368.84 85.80 367.00 78.60ZM367.00 78.60L360.50 53.20C359.41 48.93 374.59 48.93 373.50 53.20ZM373.50 53.20L367.00 78.60C365.16 85.80 381.84 85.80 380.00 78.60ZM380.00 78.60L373.50 53.20C372.41 48.93 387.59 48.93 386.50 53.20ZM386.50 53.20L380.00 78.60C378.16 85.80 394.84 85.80 393.00 78.60ZM393.00 78.60L386.50 53.20C385.41 48.93 400.59 48.93 399.50 53.20ZM399.50 53.20L393.00 78.60C391.16 85.80 407.84 85.80 406.00 78.60ZM406.00 78.60L399.50 53.20C398.41 48.93 413.59 48.93 412.50 53.20ZM412.50 53.20L406.00 78.60C404.16 85.80 420.84 85.80 419.00 78.60ZM419.00 78.60L412.50 53.20C411.41 48.93 426.59 48.93 425.50 53.20ZM425.50 53.20L419.00 78.60C417.16 85.80 433.84 85.80 432.00 78.60ZM432.00 78.60L425.50 53.20C424.41 48.93 439.59 48.93 438.50 53.20ZM438.50 53.20L432.00 78.60C430.16 85.80 446.84 85.80 445.00 78.60Z" stroke="#4a4a4a" stroke-width="1.1" fill="none"/></g>
<line x1="248.40" y1="85.50" x2="248.40" y2="482.20" stroke="#1c1c1c" stroke-width="1.5" />
<line x1="399.00" y1="85.50" x2="399.00" y2="482.20" stroke="#1c1c1c" stroke-width="1.4" />
<line x1="248.40" y1="482.20" x2="466.30" y2="482.20" stroke="#1c1c1c" stroke-width="1.4" />
<line x1="407.60" y1="86.00" x2="407.60" y2="482.20" stroke="#1c1c1c" stroke-width="1.4" />
<line x1="240.80" y1="49.00" x2="240.80" y2="260.00" stroke="#1c1c1c" stroke-width="1.3" />
<line x1="247.20" y1="88.00" x2="247.20" y2="260.00" stroke="#444" stroke-width="1.0" />
<line x1="407.20" y1="49.00" x2="407.20" y2="86.00" stroke="#1c1c1c" stroke-width="1.2" />
<circle cx="244.2" cy="100" r="0.6" fill="#666"/>
<circle cx="244.2" cy="119" r="0.6" fill="#666"/>
<circle cx="244.2" cy="138" r="0.6" fill="#666"/>
<circle cx="244.2" cy="157" r="0.6" fill="#666"/>
<circle cx="244.2" cy="176" r="0.6" fill="#666"/>
<circle cx="244.2" cy="195" r="0.6" fill="#666"/>
<circle cx="244.2" cy="214" r="0.6" fill="#666"/>
<circle cx="244.2" cy="233" r="0.6" fill="#666"/>
<circle cx="244.2" cy="252" r="0.6" fill="#666"/>
<circle cx="403.2" cy="104" r="0.6" fill="#777"/>
<circle cx="403.2" cy="123" r="0.6" fill="#777"/>
<circle cx="403.2" cy="142" r="0.6" fill="#777"/>
<circle cx="403.2" cy="161" r="0.6" fill="#777"/>
<circle cx="403.2" cy="180" r="0.6" fill="#777"/>
<circle cx="403.2" cy="199" r="0.6" fill="#777"/>
<circle cx="403.2" cy="218" r="0.6" fill="#777"/>
<circle cx="403.2" cy="237" r="0.6" fill="#777"/>
<circle cx="403.2" cy="256" r="0.6" fill="#777"/>
<circle cx="403.2" cy="275" r="0.6" fill="#777"/>
<circle cx="403.2" cy="294" r="0.6" fill="#777"/>
<circle cx="403.2" cy="313" r="0.6" fill="#777"/>
<circle cx="403.2" cy="332" r="0.6" fill="#777"/>
<circle cx="403.2" cy="351" r="0.6" fill="#777"/>
<circle cx="403.2" cy="370" r="0.6" fill="#777"/>
<circle cx="403.2" cy="389" r="0.6" fill="#777"/>
<circle cx="403.2" cy="408" r="0.6" fill="#777"/>
<circle cx="403.2" cy="427" r="0.6" fill="#777"/>
<circle cx="403.2" cy="446" r="0.6" fill="#777"/>
<circle cx="403.2" cy="465" r="0.6" fill="#777"/>
<line x1="241.00" y1="141.00" x2="247.00" y2="141.00" stroke="#555" stroke-width="0.9" />
<line x1="241.00" y1="160.00" x2="247.00" y2="160.00" stroke="#555" stroke-width="0.9" />
<line x1="399.50" y1="198.60" x2="406.80" y2="198.60" stroke="#444" stroke-width="1.0" />
<line x1="399.50" y1="220.80" x2="406.80" y2="220.80" stroke="#444" stroke-width="1.0" />
<line x1="399.50" y1="366.20" x2="406.80" y2="366.20" stroke="#444" stroke-width="1.0" />
<line x1="399.50" y1="388.00" x2="406.80" y2="388.00" stroke="#444" stroke-width="1.0" />
<line x1="407.40" y1="157.40" x2="458.20" y2="157.40" stroke="#1c1c1c" stroke-width="1.3" />
<rect x="457.80" y="50" width="7.70" height="432.20" fill="#9a9a9a"/>
<line x1="458.20" y1="50.00" x2="458.20" y2="482.20" stroke="#222" stroke-width="1.6" />
<path d="M466.30 50.00L464.70 51.25L466.30 52.50L464.70 53.75L466.30 55.00L464.70 56.25L466.30 57.50L464.70 58.75L466.30 60.00L464.70 61.25L466.30 62.50L464.70 63.75L466.30 65.00L464.70 66.25L466.30 67.50L464.70 68.75L466.30 70.00L464.70 71.25L466.30 72.50L464.70 73.75L466.30 75.00L464.70 76.25L466.30 77.50L464.70 78.75L466.30 80.00L464.70 81.25L466.30 82.50L464.70 83.75L466.30 85.00L464.70 86.25L466.30 87.50L464.70 88.75L466.30 90.00L464.70 91.25L466.30 92.50L464.70 93.75L466.30 95.00L464.70 96.25L466.30 97.50L464.70 98.75L466.30 100.00L464.70 101.25L466.30 102.50L464.70 103.75L466.30 105.00L464.70 106.25L466.30 107.50L464.70 108.75L466.30 110.00L464.70 111.25L466.30 112.50L464.70 113.75L466.30 115.00L464.70 116.25L466.30 117.50L464.70 118.75L466.30 120.00L464.70 121.25L466.30 122.50L464.70 123.75L466.30 125.00L464.70 126.25L466.30 127.50L464.70 128.75L466.30 130.00L464.70 131.25L466.30 132.50L464.70 133.75L466.30 135.00L464.70 136.25L466.30 137.50L464.70 138.75L466.30 140.00L464.70 141.25L466.30 142.50L464.70 143.75L466.30 145.00L464.70 146.25L466.30 147.50L464.70 148.75L466.30 150.00L464.70 151.25L466.30 152.50L464.70 153.75L466.30 155.00L464.70 156.25L466.30 157.50L464.70 158.75L466.30 160.00L464.70 161.25L466.30 162.50L464.70 163.75L466.30 165.00L464.70 166.25L466.30 167.50L464.70 168.75L466.30 170.00L464.70 171.25L466.30 172.50L464.70 173.75L466.30 175.00L464.70 176.25L466.30 177.50L464.70 178.75L466.30 180.00L464.70 181.25L466.30 182.50L464.70 183.75L466.30 185.00L464.70 186.25L466.30 187.50L464.70 188.75L466.30 190.00L464.70 191.25L466.30 192.50L464.70 193.75L466.30 195.00L464.70 196.25L466.30 197.50L464.70 198.75L466.30 200.00L464.70 201.25L466.30 202.50L464.70 203.75L466.30 205.00L464.70 206.25L466.30 207.50L464.70 208.75L466.30 210.00L464.70 211.25L466.30 212.50L464.70 213.75L466.30 215.00L464.70 216.25L466.30 217.50L464.70 218.75L466.30 220.00L464.70 221.25L466.30 222.50L464.70 223.75L466.30 225.00L464.70 226.25L466.30 227.50L464.70 228.75L466.30 230.00L464.70 231.25L466.30 232.50L464.70 233.75L466.30 235.00L464.70 236.25L466.30 237.50L464.70 238.75L466.30 240.00L464.70 241.25L466.30 242.50L464.70 243.75L466.30 245.00L464.70 246.25L466.30 247.50L464.70 248.75L466.30 250.00L464.70 251.25L466.30 252.50L464.70 253.75L466.30 255.00L464.70 256.25L466.30 257.50L464.70 258.75L466.30 260.00L464.70 261.25L466.30 262.50L464.70 263.75L466.30 265.00L464.70 266.25L466.30 267.50L464.70 268.75L466.30 270.00L464.70 271.25L466.30 272.50L464.70 273.75L466.30 275.00L464.70 276.25L466.30 277.50L464.70 278.75L466.30 280.00L464.70 281.25L466.30 282.50L464.70 283.75L466.30 285.00L464.70 286.25L466.30 287.50L464.70 288.75L466.30 290.00L464.70 291.25L466.30 292.50L464.70 293.75L466.30 295.00L464.70 296.25L466.30 297.50L464.70 298.75L466.30 300.00L464.70 301.25L466.30 302.50L464.70 303.75L466.30 305.00L464.70 306.25L466.30 307.50L464.70 308.75L466.30 310.00L464.70 311.25L466.30 312.50L464.70 313.75L466.30 315.00L464.70 316.25L466.30 317.50L464.70 318.75L466.30 320.00L464.70 321.25L466.30 322.50L464.70 323.75L466.30 325.00L464.70 326.25L466.30 327.50L464.70 328.75L466.30 330.00L464.70 331.25L466.30 332.50L464.70 333.75L466.30 335.00L464.70 336.25L466.30 337.50L464.70 338.75L466.30 340.00L464.70 341.25L466.30 342.50L464.70 343.75L466.30 345.00L464.70 346.25L466.30 347.50L464.70 348.75L466.30 350.00L464.70 351.25L466.30 352.50L464.70 353.75L466.30 355.00L464.70 356.25L466.30 357.50L464.70 358.75L466.30 360.00L464.70 361.25L466.30 362.50L464.70 363.75L466.30 365.00L464.70 366.25L466.30 367.50L464.70 368.75L466.30 370.00L464.70 371.25L466.30 372.50L464.70 373.75L466.30 375.00L464.70 376.25L466.30 377.50L464.70 378.75L466.30 380.00L464.70 381.25L466.30 382.50L464.70 383.75L466.30 385.00L464.70 386.25L466.30 387.50L464.70 388.75L466.30 390.00L464.70 391.25L466.30 392.50L464.70 393.75L466.30 395.00L464.70 396.25L466.30 397.50L464.70 398.75L466.30 400.00L464.70 401.25L466.30 402.50L464.70 403.75L466.30 405.00L464.70 406.25L466.30 407.50L464.70 408.75L466.30 410.00L464.70 411.25L466.30 412.50L464.70 413.75L466.30 415.00L464.70 416.25L466.30 417.50L464.70 418.75L466.30 420.00L464.70 421.25L466.30 422.50L464.70 423.75L466.30 425.00L464.70 426.25L466.30 427.50L464.70 428.75L466.30 430.00L464.70 431.25L466.30 432.50L464.70 433.75L466.30 435.00L464.70 436.25L466.30 437.50L464.70 438.75L466.30 440.00L464.70 441.25L466.30 442.50L464.70 443.75L466.30 445.00L464.70 446.25L466.30 447.50L464.70 448.75L466.30 450.00L464.70 451.25L466.30 452.50L464.70 453.75L466.30 455.00L464.70 456.25L466.30 457.50L464.70 458.75L466.30 460.00L464.70 461.25L466.30 462.50L464.70 463.75L466.30 465.00L464.70 466.25L466.30 467.50L464.70 468.75L466.30 470.00L464.70 471.25L466.30 472.50L464.70 473.75L466.30 475.00L464.70 476.25L466.30 477.50L464.70 478.75L466.30 480.00L464.70 481.25" stroke="#2a2a2a" stroke-width="1.3" fill="none" />
<line x1="462.70" y1="50.00" x2="462.70" y2="482.20" stroke="#555" stroke-width="1.0" stroke-dasharray="2 1.5"/>
<line x1="46.20" y1="251.50" x2="46.20" y2="373.20" stroke="#1c1c1c" stroke-width="1.5" />
<line x1="46.20" y1="373.20" x2="248.40" y2="373.20" stroke="#1c1c1c" stroke-width="1.5" />
<line x1="46.20" y1="313.60" x2="248.40" y2="313.60" stroke="#1c1c1c" stroke-width="1.4" />
<line x1="46.20" y1="261.00" x2="190.00" y2="261.00" stroke="#333" stroke-width="1.2" />
<line x1="190.00" y1="260.20" x2="248.40" y2="260.20" stroke="#1c1c1c" stroke-width="1.4" />
<g clip-path="url(#csc)">
<path d="M46.2 252.5 L131 249.5 L147 247 L189.5 218.5 L189.5 261.0 L46.2 261.0 Z" fill="#f4f4f4"/>
<g fill="#333"><circle cx="92.8" cy="222.8" r="0.45"/><circle cx="56.6" cy="240.1" r="0.7"/><circle cx="130.0" cy="256.9" r="0.55"/><circle cx="51.6" cy="235.5" r="0.45"/><circle cx="80.8" cy="240.8" r="0.45"/><circle cx="165.1" cy="221.6" r="0.55"/><circle cx="136.9" cy="242.2" r="0.45"/><circle cx="129.2" cy="233.9" r="0.55"/><circle cx="52.9" cy="254.6" r="0.7"/><circle cx="106.5" cy="240.3" r="1.0"/><circle cx="90.6" cy="252.7" r="0.55"/><circle cx="61.0" cy="241.7" r="0.55"/><circle cx="99.8" cy="240.6" r="0.45"/><circle cx="127.4" cy="243.9" r="0.85"/><circle cx="144.0" cy="235.2" r="0.7"/><circle cx="113.2" cy="257.6" r="0.7"/><circle cx="89.3" cy="251.7" r="0.55"/><circle cx="58.0" cy="229.5" r="0.85"/><circle cx="172.0" cy="248.8" r="0.7"/><circle cx="133.8" cy="219.3" r="1.0"/><circle cx="106.3" cy="250.1" r="0.55"/><circle cx="180.4" cy="235.0" r="0.45"/><circle cx="156.1" cy="241.8" r="0.7"/><circle cx="95.1" cy="231.8" r="0.85"/><circle cx="129.6" cy="236.5" r="0.45"/><circle cx="182.0" cy="237.3" r="0.45"/><circle cx="54.9" cy="247.6" r="1.0"/><circle cx="189.0" cy="253.0" r="0.7"/><circle cx="149.3" cy="255.9" r="0.7"/><circle cx="49.4" cy="236.8" r="0.55"/><circle cx="134.1" cy="238.2" r="0.55"/><circle cx="156.7" cy="221.8" r="0.55"/><circle cx="103.4" cy="257.3" r="0.85"/><circle cx="57.8" cy="236.2" r="1.0"/><circle cx="86.2" cy="222.2" r="0.85"/><circle cx="170.4" cy="228.5" r="0.85"/><circle cx="188.1" cy="246.7" r="0.85"/><circle cx="183.9" cy="222.8" r="0.55"/><circle cx="68.0" cy="245.6" r="0.45"/><circle cx="115.9" cy="242.5" r="0.7"/><circle cx="86.7" cy="222.6" r="1.0"/><circle cx="99.3" cy="241.5" r="0.55"/><circle cx="145.5" cy="239.2" r="1.0"/><circle cx="140.4" cy="249.3" r="0.85"/><circle cx="175.6" cy="251.1" r="1.0"/><circle cx="102.6" cy="234.0" r="0.45"/><circle cx="115.4" cy="234.0" r="0.55"/><circle cx="55.9" cy="225.4" r="0.55"/><circle cx="62.0" cy="243.0" r="0.45"/><circle cx="46.2" cy="222.8" r="0.45"/><circle cx="182.7" cy="243.6" r="0.45"/><circle cx="171.9" cy="243.6" r="0.55"/><circle cx="137.4" cy="259.0" r="1.0"/><circle cx="98.6" cy="221.5" r="0.85"/><circle cx="189.0" cy="237.0" r="0.85"/><circle cx="91.0" cy="222.5" r="0.7"/><circle cx="152.7" cy="237.5" r="0.55"/><circle cx="120.4" cy="225.2" r="1.0"/><circle cx="98.2" cy="247.1" r="0.45"/><circle cx="155.2" cy="229.4" r="0.45"/><circle cx="146.3" cy="227.8" r="0.7"/><circle cx="176.8" cy="232.0" r="0.55"/><circle cx="122.8" cy="251.1" r="0.7"/><circle cx="137.7" cy="243.6" r="0.55"/><circle cx="162.1" cy="252.8" r="0.55"/><circle cx="74.9" cy="238.2" r="0.45"/><circle cx="188.5" cy="251.6" r="0.85"/><circle cx="83.5" cy="247.2" r="0.7"/><circle cx="110.5" cy="258.2" r="0.7"/><circle cx="183.5" cy="232.4" r="0.55"/><circle cx="60.9" cy="237.2" r="0.7"/><circle cx="75.6" cy="244.1" r="1.0"/><circle cx="167.1" cy="237.6" r="0.7"/><circle cx="161.2" cy="219.8" r="0.45"/><circle cx="177.0" cy="251.2" r="0.55"/><circle cx="114.9" cy="224.0" r="0.7"/><circle cx="58.7" cy="258.6" r="0.85"/><circle cx="112.8" cy="249.5" r="0.45"/><circle cx="150.4" cy="223.7" r="0.55"/><circle cx="50.2" cy="242.6" r="0.85"/><circle cx="162.2" cy="222.6" r="1.0"/><circle cx="187.2" cy="245.6" r="0.7"/><circle cx="68.6" cy="240.7" r="0.45"/><circle cx="48.2" cy="259.7" r="0.45"/><circle cx="121.9" cy="258.0" r="0.85"/><circle cx="188.1" cy="224.8" r="0.55"/><circle cx="50.2" cy="225.6" r="1.0"/><circle cx="80.8" cy="242.4" r="0.7"/><circle cx="124.5" cy="253.5" r="0.45"/><circle cx="177.1" cy="231.9" r="0.85"/><circle cx="141.5" cy="252.7" r="1.0"/><circle cx="106.7" cy="257.3" r="1.0"/><circle cx="65.0" cy="222.8" r="1.0"/><circle cx="48.9" cy="235.8" r="0.55"/><circle cx="133.7" cy="250.9" r="0.55"/><circle cx="71.0" cy="237.3" r="0.45"/><circle cx="126.2" cy="230.7" r="1.0"/><circle cx="122.5" cy="237.7" r="0.45"/><circle cx="173.2" cy="218.6" r="0.55"/><circle cx="86.0" cy="250.8" r="1.0"/><circle cx="111.2" cy="217.3" r="0.45"/><circle cx="109.9" cy="243.6" r="1.0"/><circle cx="133.4" cy="225.0" r="0.7"/><circle cx="111.2" cy="240.0" r="0.85"/><circle cx="119.2" cy="227.1" r="1.0"/><circle cx="172.2" cy="258.4" r="0.7"/><circle cx="178.9" cy="256.2" r="0.55"/><circle cx="167.0" cy="222.2" r="0.45"/><circle cx="102.6" cy="230.2" r="0.55"/><circle cx="107.8" cy="225.6" r="0.7"/><circle cx="158.9" cy="256.4" r="0.55"/><circle cx="181.3" cy="245.0" r="0.7"/><circle cx="66.8" cy="255.7" r="0.85"/><circle cx="77.8" cy="258.9" r="0.85"/><circle cx="173.5" cy="223.3" r="0.55"/><circle cx="69.4" cy="235.4" r="1.0"/><circle cx="104.3" cy="235.0" r="0.7"/><circle cx="92.0" cy="248.5" r="0.45"/><circle cx="94.8" cy="236.6" r="0.45"/><circle cx="101.5" cy="239.3" r="0.7"/><circle cx="119.9" cy="218.9" r="0.55"/><circle cx="185.9" cy="220.7" r="0.7"/><circle cx="85.3" cy="256.8" r="0.55"/><circle cx="85.1" cy="221.8" r="0.85"/><circle cx="168.4" cy="246.4" r="0.7"/><circle cx="104.6" cy="240.1" r="1.0"/><circle cx="128.3" cy="247.5" r="0.45"/><circle cx="86.3" cy="252.0" r="0.55"/><circle cx="107.4" cy="219.3" r="0.45"/><circle cx="137.4" cy="252.1" r="0.45"/><circle cx="133.7" cy="226.0" r="0.7"/><circle cx="170.3" cy="236.4" r="0.7"/><circle cx="189.2" cy="234.8" r="0.7"/><circle cx="135.6" cy="217.9" r="0.55"/><circle cx="181.1" cy="259.6" r="0.7"/><circle cx="53.4" cy="225.1" r="0.7"/><circle cx="136.6" cy="239.9" r="0.55"/><circle cx="87.9" cy="238.5" r="0.55"/><circle cx="85.1" cy="252.2" r="0.7"/><circle cx="51.5" cy="216.8" r="1.0"/><circle cx="125.4" cy="224.5" r="0.85"/><circle cx="81.5" cy="236.1" r="0.85"/><circle cx="140.6" cy="240.6" r="0.85"/><circle cx="185.7" cy="229.9" r="0.55"/><circle cx="187.5" cy="231.4" r="0.55"/><circle cx="104.4" cy="231.6" r="0.45"/><circle cx="166.6" cy="216.6" r="0.7"/><circle cx="108.1" cy="218.5" r="0.85"/><circle cx="171.4" cy="246.2" r="0.7"/><circle cx="132.3" cy="247.2" r="0.45"/><circle cx="112.3" cy="223.1" r="0.85"/><circle cx="46.7" cy="232.4" r="0.7"/><circle cx="186.1" cy="240.6" r="0.55"/><circle cx="51.2" cy="255.7" r="0.55"/><circle cx="97.5" cy="216.0" r="0.85"/><circle cx="58.3" cy="228.6" r="0.55"/><circle cx="81.9" cy="250.9" r="0.45"/><circle cx="84.2" cy="220.0" r="0.85"/><circle cx="130.6" cy="233.7" r="0.7"/><circle cx="90.0" cy="226.5" r="1.0"/><circle cx="183.9" cy="254.4" r="0.55"/><circle cx="140.8" cy="248.2" r="1.0"/><circle cx="102.2" cy="230.7" r="0.85"/><circle cx="67.7" cy="248.6" r="0.55"/><circle cx="52.5" cy="253.6" r="1.0"/><circle cx="136.4" cy="249.0" r="1.0"/><circle cx="66.2" cy="239.6" r="1.0"/><circle cx="127.9" cy="252.6" r="0.45"/><circle cx="165.0" cy="242.3" r="0.55"/><circle cx="58.4" cy="217.9" r="0.7"/><circle cx="184.2" cy="232.9" r="0.85"/><circle cx="126.5" cy="244.2" r="1.0"/><circle cx="144.1" cy="238.0" r="0.45"/><circle cx="111.9" cy="219.2" r="1.0"/><circle cx="175.3" cy="220.1" r="1.0"/><circle cx="55.7" cy="249.2" r="0.7"/><circle cx="162.6" cy="254.1" r="0.55"/><circle cx="151.1" cy="225.2" r="0.85"/><circle cx="117.2" cy="233.2" r="0.85"/><circle cx="177.1" cy="228.9" r="0.45"/><circle cx="134.9" cy="244.9" r="0.45"/><circle cx="132.4" cy="230.9" r="0.7"/><circle cx="135.5" cy="222.0" r="0.85"/><circle cx="54.9" cy="228.1" r="0.45"/><circle cx="145.7" cy="246.4" r="0.7"/><circle cx="148.1" cy="228.8" r="0.85"/><circle cx="113.3" cy="221.3" r="1.0"/><circle cx="74.9" cy="260.0" r="0.85"/><circle cx="48.7" cy="236.7" r="1.0"/><circle cx="185.4" cy="236.2" r="0.7"/><circle cx="101.8" cy="257.2" r="0.55"/><circle cx="56.9" cy="220.1" r="1.0"/><circle cx="83.8" cy="232.2" r="1.0"/><circle cx="164.1" cy="238.9" r="0.45"/><circle cx="147.3" cy="226.4" r="0.85"/><circle cx="102.9" cy="223.2" r="0.85"/><circle cx="144.2" cy="234.2" r="0.55"/><circle cx="106.0" cy="232.9" r="0.45"/><circle cx="167.0" cy="216.1" r="0.7"/><circle cx="166.9" cy="221.4" r="0.55"/><circle cx="148.7" cy="256.6" r="0.7"/><circle cx="82.6" cy="218.9" r="0.85"/><circle cx="189.8" cy="242.5" r="0.7"/><circle cx="179.3" cy="250.0" r="0.45"/><circle cx="86.6" cy="218.3" r="0.7"/><circle cx="137.5" cy="222.7" r="0.7"/><circle cx="108.9" cy="230.2" r="0.7"/><circle cx="159.1" cy="235.2" r="0.45"/><circle cx="163.0" cy="244.4" r="1.0"/><circle cx="125.2" cy="248.4" r="0.45"/><circle cx="180.4" cy="234.5" r="1.0"/><circle cx="154.4" cy="245.0" r="0.7"/><circle cx="116.0" cy="257.0" r="1.0"/><circle cx="64.5" cy="237.2" r="0.7"/><circle cx="86.7" cy="227.5" r="0.7"/><circle cx="104.6" cy="226.7" r="0.85"/><circle cx="126.3" cy="233.7" r="0.55"/><circle cx="138.7" cy="219.4" r="1.0"/><circle cx="176.5" cy="238.4" r="0.55"/><circle cx="111.3" cy="231.0" r="0.85"/><circle cx="107.7" cy="240.7" r="0.55"/><circle cx="59.2" cy="231.4" r="0.45"/><circle cx="92.1" cy="232.6" r="1.0"/><circle cx="75.3" cy="216.9" r="0.85"/><circle cx="101.3" cy="249.6" r="0.55"/><circle cx="100.4" cy="231.2" r="0.45"/><circle cx="117.8" cy="241.8" r="0.7"/><circle cx="64.3" cy="238.7" r="0.55"/><circle cx="59.5" cy="256.4" r="0.85"/><circle cx="103.7" cy="236.1" r="0.7"/><circle cx="168.2" cy="255.3" r="0.45"/><circle cx="64.5" cy="235.1" r="0.85"/><circle cx="185.4" cy="238.0" r="0.45"/><circle cx="102.5" cy="257.7" r="1.0"/><circle cx="169.2" cy="259.8" r="0.55"/><circle cx="158.8" cy="226.1" r="0.55"/><circle cx="121.3" cy="246.7" r="0.85"/><circle cx="58.4" cy="251.0" r="0.45"/><circle cx="158.7" cy="226.5" r="0.45"/><circle cx="139.0" cy="229.7" r="0.55"/><circle cx="136.3" cy="239.8" r="0.85"/><circle cx="146.7" cy="221.0" r="0.45"/><circle cx="89.4" cy="258.5" r="0.55"/><circle cx="102.0" cy="226.1" r="1.0"/><circle cx="46.4" cy="240.2" r="0.85"/><circle cx="86.3" cy="230.2" r="0.55"/><circle cx="114.5" cy="226.6" r="0.55"/><circle cx="50.4" cy="234.5" r="0.7"/><circle cx="54.2" cy="224.7" r="0.85"/><circle cx="57.9" cy="226.3" r="0.85"/><circle cx="179.2" cy="226.2" r="0.45"/><circle cx="146.3" cy="248.3" r="0.7"/><circle cx="144.4" cy="224.9" r="0.7"/><circle cx="152.5" cy="238.7" r="0.55"/><circle cx="117.5" cy="225.0" r="0.55"/><circle cx="79.4" cy="226.0" r="0.7"/><circle cx="61.9" cy="244.1" r="1.0"/><circle cx="73.1" cy="226.0" r="0.85"/><circle cx="177.1" cy="218.5" r="1.0"/><circle cx="67.2" cy="233.7" r="0.55"/><circle cx="49.6" cy="242.8" r="0.85"/><circle cx="53.7" cy="218.7" r="0.85"/><circle cx="110.9" cy="248.0" r="0.7"/><circle cx="151.6" cy="260.9" r="0.55"/><circle cx="93.5" cy="224.3" r="1.0"/><circle cx="153.5" cy="217.4" r="0.85"/><circle cx="166.9" cy="260.3" r="0.85"/><circle cx="70.5" cy="216.1" r="0.7"/><circle cx="57.8" cy="234.9" r="0.45"/><circle cx="126.9" cy="250.1" r="0.85"/><circle cx="97.5" cy="253.0" r="0.85"/><circle cx="58.8" cy="247.7" r="0.55"/><circle cx="99.8" cy="257.4" r="0.55"/><circle cx="92.7" cy="249.2" r="0.85"/><circle cx="50.6" cy="234.5" r="0.85"/><circle cx="52.0" cy="217.6" r="0.45"/><circle cx="161.7" cy="218.8" r="0.55"/><circle cx="153.7" cy="256.4" r="0.7"/><circle cx="98.4" cy="231.1" r="1.0"/><circle cx="52.5" cy="249.6" r="0.7"/><circle cx="179.1" cy="229.4" r="1.0"/><circle cx="178.0" cy="244.5" r="0.45"/><circle cx="49.7" cy="226.5" r="0.85"/><circle cx="149.1" cy="237.0" r="0.85"/><circle cx="159.8" cy="257.1" r="0.85"/><circle cx="65.3" cy="238.3" r="0.45"/><circle cx="161.6" cy="249.2" r="0.55"/><circle cx="133.5" cy="230.8" r="0.7"/><circle cx="112.5" cy="251.3" r="1.0"/><circle cx="57.6" cy="224.9" r="0.55"/><circle cx="81.8" cy="218.9" r="0.45"/><circle cx="115.5" cy="240.5" r="0.55"/><circle cx="187.2" cy="255.8" r="0.45"/><circle cx="84.3" cy="219.8" r="0.45"/><circle cx="106.7" cy="260.5" r="0.85"/><circle cx="71.1" cy="222.0" r="0.85"/><circle cx="135.4" cy="246.3" r="1.0"/><circle cx="168.0" cy="245.9" r="0.45"/><circle cx="158.3" cy="229.2" r="0.7"/><circle cx="127.7" cy="232.8" r="0.7"/><circle cx="74.8" cy="227.1" r="0.55"/><circle cx="80.1" cy="228.7" r="1.0"/><circle cx="73.3" cy="218.9" r="0.7"/><circle cx="188.9" cy="238.8" r="0.55"/><circle cx="139.6" cy="220.5" r="0.85"/><circle cx="188.7" cy="220.6" r="0.85"/><circle cx="173.2" cy="226.4" r="0.85"/><circle cx="177.7" cy="217.8" r="0.7"/><circle cx="79.7" cy="218.3" r="1.0"/><circle cx="186.1" cy="242.2" r="0.45"/><circle cx="99.7" cy="255.0" r="0.85"/><circle cx="132.9" cy="250.9" r="0.45"/><circle cx="61.4" cy="242.8" r="1.0"/><circle cx="96.5" cy="217.7" r="0.7"/><circle cx="66.5" cy="225.2" r="0.7"/><circle cx="51.7" cy="249.0" r="0.55"/><circle cx="163.4" cy="252.8" r="0.85"/><circle cx="143.7" cy="224.3" r="0.7"/><circle cx="57.4" cy="217.4" r="0.85"/><circle cx="125.0" cy="218.8" r="0.45"/><circle cx="160.6" cy="245.9" r="0.55"/><circle cx="138.1" cy="220.1" r="0.55"/><circle cx="103.4" cy="228.2" r="0.7"/><circle cx="142.2" cy="234.8" r="0.45"/><circle cx="91.1" cy="241.5" r="0.7"/><circle cx="105.7" cy="216.8" r="0.7"/><circle cx="138.9" cy="233.6" r="0.85"/><circle cx="75.5" cy="216.3" r="0.55"/><circle cx="107.1" cy="252.9" r="0.85"/><circle cx="129.3" cy="232.4" r="0.55"/><circle cx="64.9" cy="218.3" r="0.55"/><circle cx="138.3" cy="256.9" r="0.45"/><circle cx="128.6" cy="257.7" r="1.0"/><circle cx="70.9" cy="231.7" r="0.55"/><circle cx="121.1" cy="257.6" r="0.45"/><circle cx="101.4" cy="249.9" r="0.55"/><circle cx="89.6" cy="253.7" r="0.45"/><circle cx="186.5" cy="237.7" r="0.45"/><circle cx="133.6" cy="244.6" r="0.45"/><circle cx="176.2" cy="243.9" r="0.55"/><circle cx="138.3" cy="254.5" r="1.0"/><circle cx="104.4" cy="254.1" r="0.85"/><circle cx="72.5" cy="225.8" r="0.85"/><circle cx="181.2" cy="223.0" r="0.7"/><circle cx="63.9" cy="227.1" r="0.55"/><circle cx="52.1" cy="241.3" r="0.45"/><circle cx="142.2" cy="230.6" r="0.85"/><circle cx="132.4" cy="240.8" r="0.7"/><circle cx="139.5" cy="229.9" r="0.55"/><circle cx="107.4" cy="245.6" r="0.85"/><circle cx="118.6" cy="224.0" r="0.45"/><circle cx="135.2" cy="238.0" r="0.55"/><circle cx="110.5" cy="243.8" r="0.85"/><circle cx="166.5" cy="252.5" r="0.85"/><circle cx="61.6" cy="221.8" r="0.85"/><circle cx="98.7" cy="252.1" r="1.0"/><circle cx="119.6" cy="217.8" r="0.55"/><circle cx="58.0" cy="249.0" r="1.0"/><circle cx="57.7" cy="249.8" r="0.85"/><circle cx="140.1" cy="251.3" r="0.45"/><circle cx="169.4" cy="260.8" r="0.45"/><circle cx="74.1" cy="260.2" r="0.85"/><circle cx="87.6" cy="252.5" r="0.55"/><circle cx="144.9" cy="248.4" r="0.55"/><circle cx="55.6" cy="231.8" r="0.7"/><circle cx="69.0" cy="256.3" r="0.7"/><circle cx="176.3" cy="236.5" r="0.7"/><circle cx="118.4" cy="257.4" r="0.55"/><circle cx="131.3" cy="243.7" r="0.55"/><circle cx="92.1" cy="217.7" r="0.55"/><circle cx="104.2" cy="244.6" r="0.7"/><circle cx="143.9" cy="256.3" r="0.55"/><circle cx="160.1" cy="227.9" r="1.0"/><circle cx="53.2" cy="254.6" r="0.85"/><circle cx="126.0" cy="242.1" r="0.45"/><circle cx="82.4" cy="240.1" r="0.85"/><circle cx="152.3" cy="232.7" r="0.85"/><circle cx="188.6" cy="242.0" r="0.7"/><circle cx="93.8" cy="219.7" r="0.55"/><circle cx="71.6" cy="249.5" r="0.45"/><circle cx="88.8" cy="239.2" r="0.7"/><circle cx="138.1" cy="260.3" r="1.0"/><circle cx="179.7" cy="256.3" r="0.45"/><circle cx="153.6" cy="226.0" r="0.7"/><circle cx="134.8" cy="235.5" r="1.0"/><circle cx="98.6" cy="218.1" r="0.85"/><circle cx="78.9" cy="245.4" r="0.45"/><circle cx="54.0" cy="241.5" r="0.7"/><circle cx="61.5" cy="232.1" r="0.55"/><circle cx="105.6" cy="229.6" r="0.55"/><circle cx="75.6" cy="244.1" r="0.85"/><circle cx="69.0" cy="216.6" r="0.55"/><circle cx="147.9" cy="236.3" r="0.45"/><circle cx="138.0" cy="255.2" r="0.7"/><circle cx="104.0" cy="227.9" r="0.45"/><circle cx="54.3" cy="252.9" r="0.7"/><circle cx="131.7" cy="242.0" r="1.0"/><circle cx="181.0" cy="249.0" r="0.55"/><circle cx="69.9" cy="216.0" r="0.45"/><circle cx="122.6" cy="234.3" r="0.55"/><circle cx="69.1" cy="257.0" r="0.45"/><circle cx="48.0" cy="240.8" r="0.55"/><circle cx="66.7" cy="225.0" r="1.0"/><circle cx="138.6" cy="245.1" r="0.85"/><circle cx="163.2" cy="223.9" r="0.7"/><circle cx="55.4" cy="244.2" r="0.85"/><circle cx="149.1" cy="216.3" r="0.85"/><circle cx="153.4" cy="236.9" r="0.85"/><circle cx="71.4" cy="260.8" r="0.7"/><circle cx="79.6" cy="217.7" r="0.7"/><circle cx="174.4" cy="257.6" r="0.7"/><circle cx="148.5" cy="228.0" r="1.0"/><circle cx="143.9" cy="246.9" r="1.0"/><circle cx="186.0" cy="229.3" r="0.55"/><circle cx="58.5" cy="238.8" r="0.55"/><circle cx="83.6" cy="226.6" r="0.55"/><circle cx="182.0" cy="249.6" r="0.7"/><circle cx="73.8" cy="233.5" r="1.0"/><circle cx="80.6" cy="256.8" r="1.0"/><circle cx="113.7" cy="253.8" r="0.45"/><circle cx="169.5" cy="235.7" r="0.55"/><circle cx="128.2" cy="229.8" r="0.55"/><circle cx="102.5" cy="242.3" r="1.0"/><circle cx="177.2" cy="222.5" r="0.45"/><circle cx="62.3" cy="244.0" r="0.55"/><circle cx="95.8" cy="222.4" r="0.45"/><circle cx="50.6" cy="222.2" r="0.45"/><circle cx="146.4" cy="249.2" r="0.45"/><circle cx="169.4" cy="250.3" r="0.55"/><circle cx="163.8" cy="252.9" r="0.45"/><circle cx="172.7" cy="250.0" r="0.85"/><circle cx="61.6" cy="225.3" r="0.45"/><circle cx="51.1" cy="258.7" r="0.45"/><circle cx="164.8" cy="244.4" r="0.7"/><circle cx="114.8" cy="222.0" r="0.55"/><circle cx="88.5" cy="231.1" r="0.7"/><circle cx="49.2" cy="227.6" r="0.7"/><circle cx="53.2" cy="250.2" r="0.7"/><circle cx="156.8" cy="243.1" r="0.85"/><circle cx="168.6" cy="243.8" r="0.45"/><circle cx="159.7" cy="217.4" r="1.0"/><circle cx="157.4" cy="231.6" r="0.45"/><circle cx="123.5" cy="225.7" r="0.45"/><circle cx="128.8" cy="228.9" r="0.85"/><circle cx="46.4" cy="225.1" r="0.45"/><circle cx="46.8" cy="238.1" r="0.85"/><circle cx="146.2" cy="253.1" r="0.85"/><circle cx="131.4" cy="259.1" r="1.0"/><circle cx="83.7" cy="258.5" r="0.7"/><circle cx="163.4" cy="258.2" r="0.55"/><circle cx="117.9" cy="220.9" r="0.45"/><circle cx="116.7" cy="260.6" r="1.0"/><circle cx="159.4" cy="244.3" r="0.7"/><circle cx="59.9" cy="257.8" r="0.45"/><circle cx="106.9" cy="245.1" r="0.7"/><circle cx="75.8" cy="227.8" r="1.0"/><circle cx="118.3" cy="233.1" r="0.55"/><circle cx="181.9" cy="221.7" r="1.0"/><circle cx="154.7" cy="249.9" r="0.45"/><circle cx="96.3" cy="230.7" r="0.55"/><circle cx="171.0" cy="236.3" r="1.0"/><circle cx="152.9" cy="223.6" r="0.85"/><circle cx="145.3" cy="227.6" r="0.55"/><circle cx="64.3" cy="236.8" r="0.55"/><circle cx="119.2" cy="228.0" r="1.0"/><circle cx="68.4" cy="223.0" r="0.55"/><circle cx="150.2" cy="243.1" r="0.7"/><circle cx="69.3" cy="230.8" r="0.55"/><circle cx="83.4" cy="259.0" r="0.45"/><circle cx="69.9" cy="245.6" r="0.55"/><circle cx="101.5" cy="260.3" r="0.7"/><circle cx="151.6" cy="235.6" r="0.55"/><circle cx="61.9" cy="257.0" r="0.7"/><circle cx="75.9" cy="233.5" r="0.45"/><circle cx="48.0" cy="254.4" r="0.85"/><circle cx="145.9" cy="238.5" r="0.7"/><circle cx="112.8" cy="222.4" r="1.0"/><circle cx="152.4" cy="216.2" r="0.55"/><circle cx="176.8" cy="235.4" r="1.0"/><circle cx="130.7" cy="245.1" r="0.55"/><circle cx="142.2" cy="245.4" r="1.0"/><circle cx="168.8" cy="246.6" r="0.45"/><circle cx="111.5" cy="230.1" r="0.45"/><circle cx="174.9" cy="226.9" r="0.85"/><circle cx="148.8" cy="244.3" r="0.7"/><circle cx="168.3" cy="237.7" r="0.45"/><circle cx="135.6" cy="234.4" r="0.55"/><circle cx="174.8" cy="230.8" r="0.45"/><circle cx="102.1" cy="238.0" r="0.45"/><circle cx="51.7" cy="240.5" r="0.55"/><circle cx="149.2" cy="258.8" r="0.55"/><circle cx="120.9" cy="220.5" r="1.0"/><circle cx="111.9" cy="225.2" r="0.85"/><circle cx="119.9" cy="244.8" r="0.7"/><circle cx="121.2" cy="234.5" r="0.85"/><circle cx="76.4" cy="246.8" r="0.85"/><circle cx="120.1" cy="258.0" r="1.0"/><circle cx="97.3" cy="218.5" r="0.7"/><circle cx="101.1" cy="218.8" r="0.45"/><circle cx="106.4" cy="234.9" r="0.7"/><circle cx="129.6" cy="220.9" r="0.7"/><circle cx="152.8" cy="258.3" r="1.0"/><circle cx="185.9" cy="260.7" r="0.85"/><circle cx="112.7" cy="223.4" r="0.45"/><circle cx="162.6" cy="244.5" r="0.85"/><circle cx="138.5" cy="248.4" r="0.55"/><circle cx="97.0" cy="244.7" r="0.85"/><circle cx="113.5" cy="229.2" r="1.0"/><circle cx="139.6" cy="251.1" r="0.85"/><circle cx="97.2" cy="254.3" r="0.7"/><circle cx="147.5" cy="246.9" r="0.85"/><circle cx="143.8" cy="237.7" r="0.7"/><circle cx="97.7" cy="245.4" r="0.7"/><circle cx="115.2" cy="235.3" r="0.45"/><circle cx="141.0" cy="232.3" r="0.7"/><circle cx="169.1" cy="218.6" r="1.0"/><circle cx="176.5" cy="251.3" r="0.55"/><circle cx="122.5" cy="231.5" r="1.0"/><circle cx="48.4" cy="216.5" r="0.45"/><circle cx="140.5" cy="227.3" r="0.45"/><circle cx="129.4" cy="254.4" r="0.55"/><circle cx="157.8" cy="231.6" r="0.55"/><circle cx="76.2" cy="234.1" r="1.0"/><circle cx="70.3" cy="256.1" r="1.0"/><circle cx="186.7" cy="220.1" r="1.0"/><circle cx="159.5" cy="253.7" r="0.55"/><circle cx="117.3" cy="225.6" r="0.45"/><circle cx="152.9" cy="235.7" r="0.45"/><circle cx="126.0" cy="227.9" r="0.55"/><circle cx="165.1" cy="237.3" r="1.0"/><circle cx="54.6" cy="237.0" r="0.55"/><circle cx="146.9" cy="227.1" r="0.55"/><circle cx="123.8" cy="254.8" r="0.45"/><circle cx="69.3" cy="230.4" r="1.0"/><circle cx="117.8" cy="229.4" r="0.85"/><circle cx="100.1" cy="234.8" r="0.45"/><circle cx="72.2" cy="232.2" r="0.45"/><circle cx="49.2" cy="218.1" r="0.7"/><circle cx="162.5" cy="220.2" r="0.85"/><circle cx="115.9" cy="256.4" r="0.45"/><circle cx="76.9" cy="234.7" r="0.55"/><circle cx="94.9" cy="254.8" r="0.7"/><circle cx="95.3" cy="251.0" r="1.0"/><circle cx="157.0" cy="225.5" r="0.85"/><circle cx="95.4" cy="227.3" r="0.45"/><circle cx="165.1" cy="229.2" r="0.85"/><circle cx="104.3" cy="238.7" r="0.7"/><circle cx="171.7" cy="231.5" r="0.55"/><circle cx="140.3" cy="251.6" r="0.7"/><circle cx="73.9" cy="248.1" r="0.55"/><circle cx="130.5" cy="244.6" r="0.45"/><circle cx="103.6" cy="240.9" r="0.85"/><circle cx="124.6" cy="218.2" r="0.7"/><circle cx="61.8" cy="218.1" r="0.85"/><circle cx="133.7" cy="245.6" r="1.0"/><circle cx="177.0" cy="243.5" r="1.0"/><circle cx="67.3" cy="246.3" r="1.0"/><circle cx="172.2" cy="219.7" r="0.45"/><circle cx="142.1" cy="236.6" r="0.55"/><circle cx="60.8" cy="224.2" r="0.45"/><circle cx="106.8" cy="220.5" r="0.45"/><circle cx="99.2" cy="253.0" r="0.7"/><circle cx="127.0" cy="227.6" r="0.7"/><circle cx="72.8" cy="217.5" r="0.45"/><circle cx="108.1" cy="244.9" r="0.45"/><circle cx="117.8" cy="239.5" r="0.45"/><circle cx="157.5" cy="234.9" r="0.85"/><circle cx="110.4" cy="216.6" r="0.85"/><circle cx="131.6" cy="260.7" r="0.55"/><circle cx="114.6" cy="234.6" r="0.45"/><circle cx="58.1" cy="237.2" r="0.55"/><circle cx="136.3" cy="235.2" r="0.45"/><circle cx="144.5" cy="221.5" r="0.45"/><circle cx="77.6" cy="221.5" r="0.85"/><circle cx="48.8" cy="248.4" r="0.55"/><circle cx="111.0" cy="249.5" r="0.45"/><circle cx="98.8" cy="249.6" r="0.55"/><circle cx="151.1" cy="219.8" r="1.0"/><circle cx="148.2" cy="236.7" r="0.7"/><circle cx="177.6" cy="218.4" r="0.45"/><circle cx="47.8" cy="216.7" r="1.0"/><circle cx="57.7" cy="230.0" r="1.0"/><circle cx="70.1" cy="254.7" r="0.85"/><circle cx="133.8" cy="230.2" r="1.0"/><circle cx="150.9" cy="237.1" r="0.55"/><circle cx="67.0" cy="251.9" r="0.7"/><circle cx="183.4" cy="223.4" r="0.85"/><circle cx="114.8" cy="251.0" r="0.85"/><circle cx="182.1" cy="251.3" r="1.0"/><circle cx="94.2" cy="228.6" r="1.0"/><circle cx="186.3" cy="247.6" r="1.0"/><circle cx="93.9" cy="243.3" r="0.45"/><circle cx="165.7" cy="243.1" r="0.7"/><circle cx="130.3" cy="259.9" r="0.55"/><circle cx="100.4" cy="246.8" r="1.0"/><circle cx="157.1" cy="226.5" r="0.85"/><circle cx="86.9" cy="216.1" r="0.7"/><circle cx="84.7" cy="223.1" r="0.45"/><circle cx="87.7" cy="222.3" r="1.0"/><circle cx="67.3" cy="259.9" r="1.0"/><circle cx="144.7" cy="257.1" r="0.7"/><circle cx="123.1" cy="240.3" r="0.85"/><circle cx="160.9" cy="225.0" r="0.55"/><circle cx="90.7" cy="218.6" r="0.85"/><circle cx="113.1" cy="225.3" r="0.7"/><circle cx="130.5" cy="216.4" r="0.85"/><circle cx="112.3" cy="219.9" r="0.7"/><circle cx="157.2" cy="226.5" r="1.0"/><circle cx="121.1" cy="227.7" r="1.0"/><circle cx="92.4" cy="238.8" r="0.55"/><circle cx="73.4" cy="224.7" r="0.55"/><circle cx="162.1" cy="229.0" r="1.0"/><circle cx="127.4" cy="234.1" r="1.0"/><circle cx="169.4" cy="227.1" r="0.85"/><circle cx="100.0" cy="220.8" r="0.85"/><circle cx="159.4" cy="223.0" r="1.0"/><circle cx="50.6" cy="228.6" r="1.0"/><circle cx="49.2" cy="217.5" r="1.0"/><circle cx="116.1" cy="241.5" r="0.7"/><circle cx="179.3" cy="228.6" r="0.45"/><circle cx="182.3" cy="250.5" r="1.0"/><circle cx="184.7" cy="227.4" r="0.45"/><circle cx="94.9" cy="260.8" r="0.85"/><circle cx="58.2" cy="218.3" r="1.0"/><circle cx="99.4" cy="247.8" r="0.85"/><circle cx="182.4" cy="256.9" r="0.45"/><circle cx="170.3" cy="244.8" r="0.45"/><circle cx="147.8" cy="220.0" r="0.7"/><circle cx="127.4" cy="244.8" r="1.0"/><circle cx="102.7" cy="236.2" r="0.55"/><circle cx="99.5" cy="226.6" r="0.55"/><circle cx="71.0" cy="258.4" r="0.7"/><circle cx="54.7" cy="240.9" r="0.45"/><circle cx="166.6" cy="218.1" r="1.0"/><circle cx="148.2" cy="245.1" r="0.85"/><circle cx="54.2" cy="222.5" r="0.45"/><circle cx="181.3" cy="246.5" r="0.7"/><circle cx="131.0" cy="235.9" r="0.45"/><circle cx="113.9" cy="232.7" r="0.85"/><circle cx="64.1" cy="237.7" r="0.55"/><circle cx="109.7" cy="252.3" r="0.45"/><circle cx="113.5" cy="257.1" r="0.45"/><circle cx="68.8" cy="253.5" r="0.45"/><circle cx="180.5" cy="255.0" r="0.55"/><circle cx="158.1" cy="259.1" r="0.85"/><circle cx="167.3" cy="244.3" r="0.85"/><circle cx="186.0" cy="230.5" r="0.55"/><circle cx="114.9" cy="244.3" r="0.55"/><circle cx="93.9" cy="249.1" r="0.55"/><circle cx="148.8" cy="240.9" r="0.55"/><circle cx="109.3" cy="222.7" r="0.85"/><circle cx="105.4" cy="223.0" r="0.7"/><circle cx="128.3" cy="229.3" r="0.55"/><circle cx="83.7" cy="220.9" r="0.85"/><circle cx="176.1" cy="221.1" r="1.0"/><circle cx="54.4" cy="256.3" r="0.55"/><circle cx="126.7" cy="253.6" r="0.45"/><circle cx="83.3" cy="225.1" r="0.7"/><circle cx="108.3" cy="227.8" r="0.55"/><circle cx="179.2" cy="220.4" r="0.7"/><circle cx="106.0" cy="223.3" r="0.7"/><circle cx="67.0" cy="244.8" r="0.85"/><circle cx="162.2" cy="231.3" r="0.55"/><circle cx="109.9" cy="251.5" r="1.0"/><circle cx="87.4" cy="232.2" r="0.45"/><circle cx="177.3" cy="225.8" r="1.0"/><circle cx="72.2" cy="254.0" r="1.0"/><circle cx="157.0" cy="248.0" r="0.55"/><circle cx="132.6" cy="253.3" r="1.0"/><circle cx="151.3" cy="250.3" r="0.55"/><circle cx="75.8" cy="243.6" r="0.55"/><circle cx="130.0" cy="225.1" r="0.45"/><circle cx="145.7" cy="239.4" r="0.45"/><circle cx="120.8" cy="231.6" r="0.7"/><circle cx="167.3" cy="254.9" r="0.85"/><circle cx="59.2" cy="234.4" r="0.85"/><circle cx="65.4" cy="245.9" r="0.55"/><circle cx="73.0" cy="253.4" r="0.7"/><circle cx="51.5" cy="247.6" r="1.0"/><circle cx="131.7" cy="216.2" r="1.0"/><circle cx="180.2" cy="259.6" r="0.45"/><circle cx="63.6" cy="248.2" r="0.7"/><circle cx="158.2" cy="255.1" r="1.0"/><circle cx="154.2" cy="218.8" r="0.45"/><circle cx="183.4" cy="238.3" r="1.0"/><circle cx="49.9" cy="252.2" r="0.55"/><circle cx="49.2" cy="259.5" r="0.55"/><circle cx="135.2" cy="223.6" r="0.7"/><circle cx="82.2" cy="252.8" r="0.45"/><circle cx="49.0" cy="257.7" r="0.55"/><circle cx="83.8" cy="253.7" r="1.0"/><circle cx="112.9" cy="226.7" r="0.85"/><circle cx="61.0" cy="255.1" r="0.55"/><circle cx="52.7" cy="221.5" r="0.85"/><circle cx="130.5" cy="250.3" r="0.45"/><circle cx="63.7" cy="234.3" r="0.55"/><circle cx="124.1" cy="226.2" r="0.55"/><circle cx="67.4" cy="241.8" r="0.85"/><circle cx="69.8" cy="253.2" r="0.85"/><circle cx="146.0" cy="242.9" r="1.0"/><circle cx="121.8" cy="233.8" r="0.45"/><circle cx="157.9" cy="231.2" r="0.55"/><circle cx="166.8" cy="248.2" r="1.0"/><circle cx="161.9" cy="257.1" r="0.85"/><circle cx="168.1" cy="218.4" r="1.0"/><circle cx="67.3" cy="246.6" r="0.7"/><circle cx="82.0" cy="235.0" r="0.45"/><circle cx="98.6" cy="239.9" r="0.45"/><circle cx="92.8" cy="225.0" r="0.45"/><circle cx="78.6" cy="234.9" r="0.85"/><circle cx="157.9" cy="258.2" r="0.45"/><circle cx="162.6" cy="255.8" r="0.45"/><circle cx="51.1" cy="244.9" r="0.7"/><circle cx="178.2" cy="244.1" r="1.0"/><circle cx="162.2" cy="217.6" r="0.45"/><circle cx="82.2" cy="239.4" r="0.85"/><circle cx="80.2" cy="217.8" r="0.45"/><circle cx="90.1" cy="245.1" r="0.45"/><circle cx="54.9" cy="259.2" r="1.0"/><circle cx="175.8" cy="219.8" r="1.0"/><circle cx="123.0" cy="222.7" r="0.45"/><circle cx="119.8" cy="255.8" r="0.85"/><circle cx="129.2" cy="228.3" r="0.45"/><circle cx="152.7" cy="228.9" r="0.85"/><circle cx="133.9" cy="241.7" r="0.85"/><circle cx="75.1" cy="248.0" r="0.85"/><circle cx="174.4" cy="229.7" r="0.85"/><circle cx="113.6" cy="230.0" r="0.55"/><circle cx="94.2" cy="224.5" r="1.0"/><circle cx="101.3" cy="242.4" r="0.45"/><circle cx="179.1" cy="223.3" r="0.55"/><circle cx="92.8" cy="230.6" r="0.7"/><circle cx="87.2" cy="260.4" r="0.7"/><circle cx="54.4" cy="217.0" r="1.0"/><circle cx="55.8" cy="255.2" r="0.85"/><circle cx="140.8" cy="239.3" r="0.85"/><circle cx="97.1" cy="250.3" r="1.0"/><circle cx="78.6" cy="259.2" r="0.55"/><circle cx="106.1" cy="246.1" r="0.55"/><circle cx="143.3" cy="243.7" r="0.7"/><circle cx="164.3" cy="239.3" r="0.85"/><circle cx="84.8" cy="244.4" r="0.55"/><circle cx="105.6" cy="220.7" r="0.85"/><circle cx="156.3" cy="242.4" r="0.85"/><circle cx="103.4" cy="260.7" r="0.55"/><circle cx="106.3" cy="251.3" r="1.0"/><circle cx="133.5" cy="233.1" r="0.85"/><circle cx="145.8" cy="229.0" r="0.7"/><circle cx="88.3" cy="233.6" r="1.0"/><circle cx="131.8" cy="245.2" r="0.45"/><circle cx="159.4" cy="254.2" r="0.85"/><circle cx="100.9" cy="229.5" r="1.0"/><circle cx="89.9" cy="222.5" r="1.0"/><circle cx="100.4" cy="226.4" r="0.7"/><circle cx="92.8" cy="254.0" r="0.55"/><circle cx="184.1" cy="225.2" r="0.85"/><circle cx="174.4" cy="259.0" r="0.45"/><circle cx="53.0" cy="241.4" r="0.85"/><circle cx="89.3" cy="240.1" r="0.7"/><circle cx="123.6" cy="260.9" r="1.0"/><circle cx="164.9" cy="248.7" r="0.85"/><circle cx="102.2" cy="232.1" r="1.0"/><circle cx="143.4" cy="236.4" r="0.45"/><circle cx="143.5" cy="239.6" r="0.45"/><circle cx="105.1" cy="238.5" r="1.0"/><circle cx="179.7" cy="222.9" r="0.55"/><circle cx="184.9" cy="237.9" r="0.85"/><circle cx="156.5" cy="256.5" r="1.0"/><circle cx="95.6" cy="239.9" r="0.45"/><circle cx="70.7" cy="230.3" r="0.45"/><circle cx="165.0" cy="239.1" r="0.45"/><circle cx="140.5" cy="229.3" r="0.7"/><circle cx="164.2" cy="260.6" r="0.85"/><circle cx="137.0" cy="239.6" r="1.0"/><circle cx="76.1" cy="256.2" r="0.85"/><circle cx="72.4" cy="244.4" r="1.0"/><circle cx="61.5" cy="241.6" r="0.45"/><circle cx="145.7" cy="216.5" r="0.45"/><circle cx="90.3" cy="247.1" r="0.45"/><circle cx="178.1" cy="233.9" r="0.45"/><circle cx="130.5" cy="246.1" r="0.55"/><circle cx="71.4" cy="250.6" r="1.0"/><circle cx="84.5" cy="245.1" r="1.0"/><circle cx="120.2" cy="222.5" r="0.55"/><circle cx="105.3" cy="221.5" r="0.55"/><circle cx="120.7" cy="238.9" r="0.45"/><circle cx="60.6" cy="223.7" r="1.0"/><circle cx="116.7" cy="237.0" r="0.85"/><circle cx="162.2" cy="218.8" r="0.45"/><circle cx="144.6" cy="242.0" r="0.55"/><circle cx="149.1" cy="231.9" r="0.55"/><circle cx="50.9" cy="244.3" r="1.0"/><circle cx="55.3" cy="224.6" r="1.0"/><circle cx="101.7" cy="218.5" r="0.85"/><circle cx="130.0" cy="259.2" r="0.85"/><circle cx="54.0" cy="226.7" r="0.55"/><circle cx="52.5" cy="257.9" r="0.55"/><circle cx="91.5" cy="256.4" r="0.85"/><circle cx="89.9" cy="243.1" r="0.85"/><circle cx="187.1" cy="219.0" r="0.85"/><circle cx="143.3" cy="242.3" r="0.85"/><circle cx="90.7" cy="255.4" r="0.85"/><circle cx="49.4" cy="255.1" r="0.45"/><circle cx="71.1" cy="232.1" r="0.55"/><circle cx="47.3" cy="255.7" r="0.85"/><circle cx="126.9" cy="221.2" r="1.0"/><circle cx="171.5" cy="231.1" r="0.45"/><circle cx="184.4" cy="235.0" r="0.7"/><circle cx="125.8" cy="233.4" r="0.85"/><circle cx="87.0" cy="226.7" r="0.45"/><circle cx="86.3" cy="217.1" r="0.55"/><circle cx="81.0" cy="221.8" r="0.55"/><circle cx="85.0" cy="253.6" r="0.55"/><circle cx="126.0" cy="237.0" r="0.55"/><circle cx="69.1" cy="231.9" r="0.85"/><circle cx="100.4" cy="259.1" r="0.55"/><circle cx="88.9" cy="237.4" r="0.55"/><circle cx="78.9" cy="236.4" r="0.55"/><circle cx="181.7" cy="260.9" r="1.0"/><circle cx="175.6" cy="242.4" r="0.7"/><circle cx="123.1" cy="234.2" r="1.0"/><circle cx="76.8" cy="255.3" r="0.45"/><circle cx="143.7" cy="220.1" r="0.7"/><circle cx="152.0" cy="250.4" r="0.45"/><circle cx="140.8" cy="241.5" r="0.7"/><circle cx="48.4" cy="248.0" r="0.55"/><circle cx="157.8" cy="226.4" r="0.55"/><circle cx="141.5" cy="220.9" r="1.0"/><circle cx="177.6" cy="252.2" r="0.7"/><circle cx="73.9" cy="248.3" r="0.45"/><circle cx="78.8" cy="221.7" r="0.85"/><circle cx="86.8" cy="234.2" r="0.85"/><circle cx="157.6" cy="255.7" r="0.55"/><circle cx="180.9" cy="223.9" r="0.7"/><circle cx="143.9" cy="245.9" r="0.7"/><circle cx="175.2" cy="217.1" r="0.85"/><circle cx="81.9" cy="254.1" r="0.7"/><circle cx="176.5" cy="220.4" r="0.7"/><circle cx="62.8" cy="257.1" r="0.55"/><circle cx="148.7" cy="217.8" r="0.45"/><circle cx="133.7" cy="235.4" r="0.7"/><circle cx="68.7" cy="249.2" r="1.0"/><circle cx="90.9" cy="244.7" r="0.55"/><circle cx="127.4" cy="226.2" r="0.85"/><circle cx="149.3" cy="227.5" r="0.85"/><circle cx="142.6" cy="241.9" r="0.45"/><circle cx="62.3" cy="250.4" r="0.7"/><circle cx="175.8" cy="255.4" r="1.0"/><circle cx="133.5" cy="218.1" r="0.55"/><circle cx="144.1" cy="217.7" r="0.7"/><circle cx="76.4" cy="257.2" r="0.45"/><circle cx="106.2" cy="249.5" r="1.0"/><circle cx="165.4" cy="228.7" r="0.45"/><circle cx="96.4" cy="258.7" r="0.85"/><circle cx="180.0" cy="247.1" r="0.85"/><circle cx="119.3" cy="246.4" r="0.55"/><circle cx="107.8" cy="239.0" r="0.55"/><circle cx="116.6" cy="224.5" r="1.0"/><circle cx="83.8" cy="240.6" r="0.55"/><circle cx="124.4" cy="227.2" r="0.45"/><circle cx="70.4" cy="231.6" r="0.45"/><circle cx="75.2" cy="230.0" r="0.55"/><circle cx="144.9" cy="237.9" r="0.85"/><circle cx="80.4" cy="226.9" r="1.0"/><circle cx="145.6" cy="222.0" r="0.7"/><circle cx="146.6" cy="222.0" r="0.55"/><circle cx="130.7" cy="226.8" r="0.45"/><circle cx="125.0" cy="250.2" r="0.55"/><circle cx="143.6" cy="223.0" r="0.85"/><circle cx="166.9" cy="234.3" r="0.55"/><circle cx="62.7" cy="229.0" r="0.7"/><circle cx="116.2" cy="218.0" r="0.7"/><circle cx="89.9" cy="221.0" r="0.7"/><circle cx="110.6" cy="221.1" r="0.7"/><circle cx="110.2" cy="241.6" r="0.7"/><circle cx="70.4" cy="219.2" r="0.45"/><circle cx="113.6" cy="260.1" r="0.85"/><circle cx="58.3" cy="248.3" r="1.0"/><circle cx="84.2" cy="245.0" r="0.85"/><circle cx="116.4" cy="251.3" r="0.7"/><circle cx="47.4" cy="257.4" r="0.7"/><circle cx="136.5" cy="258.1" r="0.7"/><circle cx="140.1" cy="219.5" r="0.45"/><circle cx="49.8" cy="233.8" r="0.55"/><circle cx="88.8" cy="224.4" r="1.0"/><circle cx="167.8" cy="257.7" r="0.55"/><circle cx="60.9" cy="248.3" r="0.7"/><circle cx="152.9" cy="230.7" r="0.55"/><circle cx="139.3" cy="232.0" r="0.55"/><circle cx="99.2" cy="240.8" r="0.7"/><circle cx="166.7" cy="227.4" r="0.45"/><circle cx="52.1" cy="241.5" r="0.85"/><circle cx="176.4" cy="258.5" r="0.85"/><circle cx="107.0" cy="248.9" r="0.7"/><circle cx="132.9" cy="244.2" r="0.55"/><circle cx="145.1" cy="223.4" r="0.85"/><circle cx="137.8" cy="234.1" r="0.45"/><circle cx="168.5" cy="237.6" r="0.55"/><circle cx="150.2" cy="216.1" r="1.0"/><circle cx="169.2" cy="251.4" r="0.85"/><circle cx="66.8" cy="219.2" r="0.45"/><circle cx="120.2" cy="235.0" r="0.7"/><circle cx="55.2" cy="216.4" r="0.55"/><circle cx="176.2" cy="223.4" r="0.7"/><circle cx="46.8" cy="252.2" r="0.7"/><circle cx="127.8" cy="237.1" r="1.0"/><circle cx="92.7" cy="236.7" r="1.0"/><circle cx="176.9" cy="254.9" r="0.85"/><circle cx="184.5" cy="243.9" r="0.45"/><circle cx="150.1" cy="230.9" r="0.7"/><circle cx="127.5" cy="235.0" r="0.7"/><circle cx="115.3" cy="245.1" r="0.7"/><circle cx="170.6" cy="239.9" r="0.45"/><circle cx="168.2" cy="226.0" r="0.85"/><circle cx="145.6" cy="222.6" r="1.0"/><circle cx="99.7" cy="242.1" r="0.85"/><circle cx="98.0" cy="226.8" r="0.85"/><circle cx="103.2" cy="221.1" r="0.55"/><circle cx="185.5" cy="225.1" r="0.45"/><circle cx="78.0" cy="253.7" r="0.45"/><circle cx="73.2" cy="246.2" r="0.85"/><circle cx="78.8" cy="236.6" r="1.0"/><circle cx="128.6" cy="221.1" r="1.0"/><circle cx="177.0" cy="241.5" r="0.85"/><circle cx="143.9" cy="252.0" r="0.55"/><circle cx="170.4" cy="240.8" r="0.45"/><circle cx="136.3" cy="259.2" r="1.0"/><circle cx="60.9" cy="253.4" r="0.85"/><circle cx="124.5" cy="259.6" r="0.55"/><circle cx="127.2" cy="250.9" r="0.55"/><circle cx="99.9" cy="243.8" r="0.85"/><circle cx="80.3" cy="232.8" r="0.45"/><circle cx="147.1" cy="259.0" r="0.85"/><circle cx="89.3" cy="247.8" r="0.85"/><circle cx="176.8" cy="219.9" r="0.55"/><circle cx="127.2" cy="257.3" r="0.7"/><circle cx="70.4" cy="249.5" r="0.7"/><circle cx="161.8" cy="249.1" r="0.45"/><circle cx="164.9" cy="221.5" r="0.7"/><circle cx="120.0" cy="239.6" r="0.7"/><circle cx="150.0" cy="218.0" r="1.0"/><circle cx="97.0" cy="232.0" r="0.7"/><circle cx="161.7" cy="221.1" r="0.55"/><circle cx="82.8" cy="224.7" r="0.85"/><circle cx="49.3" cy="260.5" r="0.85"/><circle cx="62.5" cy="216.9" r="0.45"/><circle cx="56.8" cy="227.6" r="0.55"/><circle cx="125.9" cy="229.1" r="0.85"/><circle cx="166.4" cy="242.5" r="0.7"/><circle cx="123.6" cy="247.0" r="0.7"/><circle cx="182.6" cy="216.6" r="0.7"/><circle cx="189.2" cy="237.9" r="0.85"/><circle cx="171.7" cy="252.0" r="0.45"/><circle cx="56.9" cy="243.9" r="1.0"/><circle cx="102.7" cy="237.4" r="0.55"/><circle cx="145.8" cy="236.2" r="0.55"/><circle cx="171.7" cy="243.5" r="0.45"/><circle cx="98.1" cy="239.8" r="0.7"/><circle cx="174.8" cy="242.5" r="0.45"/><circle cx="76.6" cy="252.9" r="0.85"/><circle cx="93.9" cy="237.1" r="0.7"/><circle cx="91.4" cy="231.1" r="0.85"/><circle cx="94.2" cy="216.9" r="0.85"/><circle cx="172.2" cy="243.4" r="0.55"/><circle cx="150.7" cy="222.5" r="0.85"/><circle cx="85.5" cy="238.5" r="0.7"/><circle cx="97.5" cy="241.8" r="1.0"/><circle cx="183.8" cy="260.6" r="0.45"/><circle cx="177.8" cy="256.6" r="0.45"/><circle cx="171.6" cy="250.8" r="1.0"/><circle cx="137.5" cy="232.3" r="0.7"/><circle cx="160.2" cy="226.7" r="0.55"/><circle cx="144.2" cy="229.7" r="0.7"/><circle cx="152.5" cy="238.9" r="0.55"/><circle cx="96.6" cy="240.8" r="0.85"/><circle cx="94.3" cy="247.7" r="0.7"/><circle cx="173.3" cy="251.2" r="1.0"/><circle cx="99.0" cy="227.0" r="0.55"/><circle cx="189.5" cy="222.8" r="0.55"/><circle cx="47.2" cy="255.2" r="0.85"/><circle cx="104.4" cy="233.8" r="0.7"/><circle cx="179.9" cy="242.4" r="0.55"/><circle cx="89.6" cy="229.9" r="1.0"/><circle cx="125.5" cy="258.2" r="0.7"/><circle cx="56.8" cy="224.6" r="0.45"/><circle cx="130.3" cy="229.7" r="0.7"/><circle cx="188.2" cy="232.1" r="0.85"/><circle cx="149.9" cy="257.5" r="0.85"/><circle cx="92.1" cy="223.9" r="0.7"/><circle cx="124.8" cy="250.1" r="0.7"/><circle cx="80.3" cy="216.9" r="0.45"/><circle cx="103.7" cy="225.0" r="1.0"/><circle cx="86.8" cy="238.6" r="0.45"/><circle cx="74.5" cy="249.0" r="0.55"/><circle cx="132.6" cy="219.6" r="1.0"/><circle cx="95.3" cy="222.1" r="0.55"/><circle cx="85.1" cy="244.9" r="0.45"/><circle cx="138.2" cy="257.5" r="0.55"/><circle cx="92.4" cy="255.0" r="0.45"/><circle cx="139.5" cy="234.2" r="0.7"/><circle cx="71.3" cy="254.8" r="0.45"/><circle cx="58.7" cy="243.6" r="0.85"/><circle cx="188.2" cy="234.0" r="0.85"/><circle cx="171.8" cy="217.2" r="0.7"/><circle cx="127.3" cy="260.4" r="0.45"/><circle cx="105.9" cy="248.0" r="0.7"/><circle cx="68.7" cy="216.8" r="0.55"/><circle cx="66.7" cy="250.5" r="0.45"/><circle cx="97.7" cy="232.3" r="0.7"/><circle cx="123.7" cy="242.5" r="1.0"/><circle cx="68.3" cy="260.2" r="1.0"/><circle cx="93.8" cy="249.3" r="0.7"/><circle cx="163.2" cy="237.5" r="0.45"/><circle cx="157.8" cy="229.9" r="1.0"/><circle cx="186.7" cy="236.4" r="0.7"/><circle cx="98.2" cy="239.8" r="0.7"/><circle cx="65.2" cy="216.4" r="0.85"/><circle cx="60.5" cy="252.4" r="0.7"/><circle cx="67.9" cy="244.3" r="0.85"/><circle cx="155.0" cy="220.0" r="0.45"/><circle cx="136.0" cy="221.5" r="1.0"/><circle cx="118.4" cy="241.0" r="0.55"/><circle cx="83.5" cy="243.3" r="0.55"/><circle cx="176.0" cy="255.2" r="0.55"/><circle cx="122.2" cy="231.8" r="0.55"/><circle cx="109.7" cy="254.7" r="0.55"/><circle cx="137.7" cy="231.5" r="0.85"/><circle cx="112.4" cy="230.6" r="0.45"/><circle cx="61.7" cy="249.0" r="0.45"/><circle cx="162.2" cy="257.1" r="0.7"/><circle cx="54.8" cy="241.4" r="0.85"/><circle cx="176.6" cy="232.9" r="0.55"/><circle cx="50.6" cy="216.9" r="0.85"/><circle cx="81.0" cy="231.9" r="0.7"/><circle cx="155.4" cy="244.9" r="0.7"/><circle cx="172.7" cy="238.4" r="1.0"/><circle cx="159.9" cy="237.5" r="0.7"/><circle cx="183.4" cy="222.1" r="0.7"/><circle cx="86.8" cy="230.9" r="0.85"/><circle cx="171.6" cy="227.2" r="0.7"/><circle cx="144.4" cy="242.9" r="0.85"/><circle cx="76.7" cy="218.3" r="0.55"/><circle cx="168.6" cy="249.1" r="0.45"/><circle cx="158.3" cy="254.9" r="0.55"/><circle cx="108.7" cy="222.3" r="0.7"/><circle cx="144.7" cy="252.2" r="0.55"/><circle cx="186.3" cy="216.4" r="0.7"/><circle cx="67.9" cy="249.1" r="0.45"/><circle cx="154.2" cy="236.9" r="0.85"/><circle cx="59.2" cy="231.3" r="0.85"/><circle cx="173.0" cy="260.1" r="0.45"/><circle cx="130.4" cy="225.1" r="0.45"/><circle cx="51.6" cy="238.7" r="0.55"/><circle cx="128.9" cy="247.4" r="0.45"/><circle cx="53.1" cy="256.2" r="0.45"/><circle cx="172.5" cy="221.4" r="0.85"/><circle cx="185.8" cy="239.6" r="0.45"/><circle cx="71.9" cy="246.8" r="0.55"/><circle cx="137.3" cy="240.5" r="0.45"/><circle cx="122.4" cy="253.8" r="0.45"/><circle cx="96.4" cy="225.7" r="0.55"/><circle cx="151.4" cy="228.3" r="0.55"/><circle cx="48.4" cy="228.1" r="0.45"/><circle cx="74.4" cy="218.2" r="1.0"/><circle cx="183.1" cy="228.0" r="0.7"/><circle cx="145.2" cy="245.4" r="1.0"/><circle cx="86.8" cy="230.9" r="0.85"/><circle cx="187.5" cy="255.3" r="0.7"/><circle cx="103.6" cy="230.3" r="0.85"/><circle cx="101.3" cy="222.8" r="0.85"/><circle cx="173.0" cy="252.2" r="0.45"/><circle cx="80.6" cy="238.5" r="0.7"/><circle cx="145.9" cy="248.8" r="0.55"/><circle cx="164.9" cy="245.9" r="0.45"/><circle cx="167.4" cy="251.3" r="0.45"/><circle cx="104.6" cy="241.1" r="0.85"/><circle cx="125.1" cy="230.2" r="1.0"/><circle cx="46.3" cy="249.6" r="0.85"/><circle cx="119.6" cy="242.7" r="0.85"/><circle cx="79.9" cy="244.3" r="0.85"/><circle cx="97.3" cy="218.9" r="1.0"/><circle cx="84.5" cy="245.7" r="0.7"/><circle cx="56.6" cy="251.9" r="0.55"/><circle cx="179.1" cy="250.4" r="0.7"/><circle cx="176.9" cy="237.3" r="0.7"/><circle cx="121.3" cy="237.4" r="0.55"/><circle cx="189.9" cy="219.0" r="1.0"/><circle cx="98.6" cy="225.2" r="0.55"/><circle cx="163.2" cy="226.7" r="0.55"/><circle cx="68.1" cy="245.8" r="0.55"/><circle cx="138.3" cy="253.2" r="0.45"/><circle cx="92.5" cy="232.3" r="0.85"/><circle cx="63.9" cy="222.9" r="0.7"/><circle cx="100.1" cy="232.4" r="1.0"/><circle cx="121.2" cy="236.4" r="0.45"/><circle cx="85.7" cy="229.1" r="0.85"/><circle cx="146.1" cy="236.2" r="0.85"/><circle cx="151.3" cy="223.9" r="1.0"/><circle cx="67.8" cy="246.6" r="0.7"/><circle cx="116.5" cy="245.7" r="1.0"/><circle cx="99.5" cy="231.3" r="0.85"/><circle cx="82.6" cy="241.0" r="0.45"/><circle cx="128.2" cy="218.6" r="0.55"/><circle cx="90.3" cy="240.5" r="0.7"/><circle cx="83.0" cy="227.9" r="0.85"/><circle cx="59.3" cy="244.6" r="0.45"/><circle cx="75.2" cy="235.0" r="0.7"/><circle cx="135.0" cy="232.7" r="0.45"/><circle cx="149.4" cy="232.9" r="0.45"/><circle cx="148.7" cy="229.3" r="0.85"/><circle cx="108.2" cy="243.3" r="0.7"/><circle cx="96.9" cy="233.3" r="1.0"/><circle cx="64.8" cy="243.8" r="1.0"/><circle cx="99.7" cy="246.0" r="0.7"/><circle cx="169.9" cy="219.6" r="0.85"/><circle cx="100.8" cy="239.7" r="0.85"/><circle cx="180.8" cy="244.9" r="0.45"/><circle cx="61.7" cy="241.4" r="0.85"/><circle cx="147.0" cy="235.6" r="0.85"/><circle cx="71.5" cy="218.9" r="0.85"/><circle cx="116.8" cy="239.0" r="0.45"/><circle cx="142.6" cy="249.3" r="0.85"/><circle cx="124.1" cy="257.7" r="0.7"/><circle cx="125.8" cy="250.6" r="0.85"/><circle cx="63.2" cy="225.9" r="0.45"/><circle cx="128.3" cy="216.7" r="0.85"/><circle cx="58.9" cy="249.9" r="1.0"/><circle cx="111.5" cy="253.1" r="0.55"/><circle cx="148.5" cy="237.7" r="0.45"/><circle cx="125.3" cy="249.7" r="1.0"/><circle cx="66.4" cy="234.3" r="0.45"/><circle cx="171.6" cy="222.5" r="0.7"/><circle cx="73.6" cy="260.2" r="0.55"/><circle cx="188.4" cy="228.4" r="0.7"/><circle cx="58.7" cy="233.3" r="0.7"/><circle cx="126.1" cy="239.0" r="0.85"/><circle cx="144.1" cy="229.8" r="0.55"/><circle cx="170.8" cy="252.1" r="1.0"/><circle cx="83.2" cy="225.1" r="0.45"/><circle cx="76.0" cy="245.4" r="0.85"/><circle cx="140.6" cy="247.9" r="0.55"/><circle cx="98.8" cy="252.1" r="0.55"/><circle cx="111.8" cy="247.8" r="0.45"/><circle cx="151.1" cy="216.4" r="0.45"/><circle cx="105.0" cy="241.4" r="0.7"/><circle cx="51.3" cy="225.9" r="0.85"/><circle cx="88.1" cy="248.0" r="1.0"/><circle cx="134.0" cy="234.3" r="0.85"/><circle cx="75.5" cy="225.1" r="0.55"/><circle cx="108.6" cy="244.8" r="0.45"/><circle cx="65.9" cy="255.6" r="1.0"/><circle cx="117.7" cy="216.6" r="1.0"/><circle cx="152.2" cy="223.4" r="0.55"/><circle cx="143.1" cy="246.4" r="0.7"/><circle cx="161.5" cy="240.1" r="0.55"/><circle cx="67.2" cy="257.3" r="0.55"/><circle cx="120.4" cy="237.0" r="0.55"/><circle cx="159.0" cy="258.8" r="0.85"/><circle cx="78.4" cy="253.5" r="0.85"/><circle cx="144.8" cy="223.0" r="0.45"/><circle cx="179.1" cy="222.0" r="0.55"/><circle cx="166.4" cy="229.2" r="0.55"/><circle cx="172.0" cy="251.9" r="1.0"/><circle cx="149.6" cy="229.9" r="0.7"/><circle cx="92.8" cy="253.9" r="0.55"/><circle cx="182.2" cy="245.9" r="0.55"/><circle cx="102.5" cy="217.5" r="0.85"/><circle cx="68.6" cy="229.1" r="1.0"/><circle cx="146.0" cy="224.9" r="0.55"/><circle cx="150.9" cy="235.3" r="0.85"/><circle cx="62.6" cy="253.3" r="0.45"/><circle cx="140.7" cy="225.5" r="1.0"/><circle cx="121.9" cy="229.1" r="0.7"/><circle cx="48.8" cy="251.2" r="0.45"/><circle cx="75.0" cy="228.6" r="0.7"/><circle cx="132.2" cy="240.3" r="0.45"/><circle cx="75.2" cy="237.2" r="0.55"/><circle cx="129.4" cy="229.5" r="1.0"/><circle cx="132.3" cy="259.5" r="0.7"/><circle cx="74.2" cy="222.8" r="0.7"/><circle cx="53.4" cy="231.0" r="0.85"/><circle cx="115.4" cy="230.8" r="0.7"/><circle cx="71.9" cy="251.4" r="0.7"/><circle cx="162.5" cy="248.6" r="0.85"/><circle cx="60.0" cy="240.8" r="0.55"/><circle cx="131.8" cy="236.8" r="0.45"/><circle cx="51.9" cy="242.1" r="0.85"/><circle cx="139.2" cy="221.9" r="1.0"/><circle cx="166.6" cy="219.4" r="0.55"/><circle cx="97.9" cy="245.8" r="0.45"/><circle cx="93.9" cy="253.9" r="0.85"/><circle cx="89.8" cy="227.8" r="0.45"/><circle cx="172.6" cy="221.3" r="0.85"/><circle cx="85.1" cy="240.3" r="0.7"/><circle cx="113.5" cy="223.4" r="1.0"/><circle cx="52.2" cy="227.5" r="0.55"/><circle cx="87.0" cy="241.0" r="0.55"/><circle cx="176.8" cy="248.7" r="1.0"/><circle cx="118.4" cy="256.1" r="0.45"/><circle cx="61.4" cy="218.4" r="1.0"/><circle cx="76.5" cy="249.5" r="0.45"/><circle cx="154.1" cy="222.9" r="0.7"/><circle cx="189.7" cy="235.1" r="1.0"/><circle cx="120.7" cy="229.1" r="0.45"/><circle cx="58.3" cy="242.0" r="0.55"/><circle cx="81.2" cy="250.9" r="1.0"/><circle cx="148.4" cy="218.8" r="0.55"/><circle cx="56.7" cy="231.2" r="0.45"/><circle cx="52.1" cy="243.8" r="0.55"/><circle cx="163.3" cy="231.4" r="0.85"/><circle cx="131.3" cy="224.2" r="0.7"/><circle cx="181.4" cy="234.5" r="0.85"/><circle cx="50.8" cy="251.5" r="0.55"/><circle cx="151.7" cy="246.5" r="0.55"/><circle cx="160.9" cy="250.7" r="0.55"/><circle cx="74.7" cy="225.9" r="0.7"/><circle cx="148.1" cy="219.0" r="0.45"/><circle cx="160.0" cy="237.6" r="0.85"/><circle cx="121.8" cy="230.9" r="0.45"/><circle cx="154.3" cy="244.6" r="0.55"/><circle cx="170.8" cy="218.3" r="0.7"/><circle cx="159.3" cy="220.2" r="0.7"/><circle cx="130.0" cy="252.2" r="0.85"/><circle cx="142.9" cy="249.6" r="0.55"/><circle cx="83.5" cy="247.2" r="0.7"/><circle cx="176.3" cy="249.5" r="1.0"/><circle cx="69.9" cy="233.4" r="1.0"/><circle cx="89.2" cy="259.2" r="1.0"/><circle cx="140.4" cy="244.5" r="0.45"/><circle cx="185.5" cy="251.4" r="0.7"/><circle cx="154.2" cy="254.1" r="0.55"/><circle cx="74.7" cy="236.6" r="0.55"/><circle cx="172.4" cy="241.9" r="0.45"/><circle cx="102.6" cy="251.3" r="0.7"/><circle cx="164.9" cy="234.3" r="0.45"/><circle cx="79.0" cy="246.2" r="0.7"/><circle cx="141.6" cy="256.7" r="0.85"/><circle cx="160.2" cy="216.2" r="0.85"/><circle cx="133.0" cy="258.8" r="0.85"/><circle cx="106.4" cy="243.2" r="0.85"/><circle cx="67.2" cy="240.5" r="0.45"/><circle cx="97.1" cy="254.0" r="1.0"/><circle cx="50.9" cy="231.1" r="0.7"/><circle cx="73.1" cy="256.0" r="0.85"/><circle cx="141.3" cy="252.3" r="0.45"/><circle cx="77.3" cy="244.2" r="0.85"/><circle cx="164.5" cy="224.3" r="0.7"/><circle cx="94.0" cy="222.8" r="0.55"/><circle cx="78.4" cy="256.0" r="1.0"/><circle cx="173.0" cy="259.2" r="0.7"/><circle cx="118.1" cy="259.0" r="1.0"/><circle cx="159.9" cy="243.3" r="0.55"/><circle cx="102.4" cy="216.4" r="0.55"/><circle cx="61.1" cy="227.1" r="1.0"/><circle cx="162.6" cy="227.3" r="0.7"/><circle cx="143.4" cy="260.3" r="1.0"/><circle cx="142.0" cy="222.1" r="0.7"/><circle cx="142.0" cy="219.4" r="1.0"/><circle cx="93.8" cy="228.0" r="0.7"/><circle cx="98.2" cy="245.8" r="0.85"/><circle cx="181.1" cy="252.4" r="0.45"/><circle cx="176.7" cy="238.4" r="0.7"/><circle cx="145.6" cy="216.8" r="0.45"/><circle cx="126.4" cy="236.1" r="1.0"/><circle cx="174.3" cy="248.8" r="0.85"/><circle cx="51.2" cy="230.6" r="0.55"/><circle cx="47.2" cy="258.1" r="0.7"/><circle cx="67.0" cy="242.4" r="1.0"/><circle cx="119.2" cy="260.9" r="0.55"/><circle cx="153.7" cy="244.9" r="0.7"/><circle cx="136.4" cy="226.9" r="1.0"/><circle cx="49.9" cy="240.7" r="0.85"/><circle cx="139.5" cy="252.2" r="0.85"/><circle cx="117.1" cy="259.9" r="0.7"/><circle cx="145.5" cy="228.5" r="0.55"/><circle cx="166.1" cy="238.3" r="0.45"/><circle cx="160.3" cy="231.6" r="0.55"/><circle cx="75.1" cy="252.3" r="0.45"/><circle cx="69.5" cy="249.2" r="0.55"/><circle cx="144.2" cy="256.8" r="1.0"/><circle cx="89.0" cy="233.2" r="0.7"/><circle cx="184.6" cy="224.4" r="0.7"/><circle cx="174.4" cy="237.4" r="1.0"/><circle cx="92.3" cy="235.7" r="0.45"/><circle cx="144.2" cy="232.3" r="0.7"/><circle cx="101.6" cy="259.4" r="0.7"/><circle cx="62.4" cy="257.7" r="1.0"/><circle cx="110.9" cy="253.7" r="0.55"/><circle cx="158.2" cy="230.2" r="0.55"/><circle cx="86.3" cy="240.1" r="1.0"/><circle cx="168.2" cy="234.5" r="0.45"/><circle cx="85.8" cy="232.3" r="0.85"/><circle cx="122.3" cy="229.0" r="0.45"/><circle cx="83.5" cy="250.7" r="0.45"/><circle cx="122.7" cy="247.4" r="0.7"/><circle cx="97.1" cy="258.3" r="0.7"/><circle cx="187.2" cy="255.9" r="1.0"/><circle cx="60.1" cy="243.1" r="0.85"/><circle cx="166.2" cy="248.0" r="0.7"/><circle cx="70.1" cy="223.9" r="0.45"/><circle cx="157.6" cy="233.8" r="0.7"/><circle cx="103.7" cy="238.5" r="0.7"/><circle cx="96.5" cy="224.4" r="0.55"/><circle cx="122.7" cy="239.5" r="0.7"/><circle cx="65.4" cy="231.2" r="0.45"/><circle cx="179.2" cy="219.0" r="0.45"/><circle cx="168.7" cy="246.1" r="1.0"/><circle cx="108.4" cy="225.6" r="0.7"/><circle cx="159.1" cy="246.6" r="0.55"/><circle cx="67.9" cy="246.2" r="0.55"/><circle cx="118.2" cy="256.4" r="0.45"/><circle cx="153.0" cy="252.9" r="0.85"/><circle cx="172.6" cy="221.9" r="0.85"/><circle cx="134.3" cy="228.4" r="0.45"/><circle cx="157.1" cy="243.2" r="1.0"/><circle cx="85.5" cy="225.6" r="0.55"/><circle cx="90.7" cy="232.2" r="1.0"/><circle cx="186.4" cy="252.1" r="0.7"/><circle cx="49.6" cy="239.3" r="0.45"/><circle cx="166.8" cy="230.6" r="0.45"/><circle cx="112.0" cy="250.4" r="0.85"/><circle cx="85.8" cy="218.7" r="0.85"/><circle cx="131.1" cy="242.8" r="0.45"/><circle cx="51.9" cy="253.2" r="0.45"/><circle cx="115.8" cy="229.2" r="0.7"/><circle cx="184.9" cy="239.9" r="0.55"/><circle cx="77.5" cy="251.7" r="0.55"/><circle cx="86.7" cy="259.8" r="1.0"/><circle cx="123.4" cy="217.4" r="0.55"/><circle cx="50.3" cy="238.7" r="0.85"/><circle cx="100.0" cy="259.0" r="0.7"/><circle cx="150.4" cy="242.3" r="0.85"/><circle cx="102.3" cy="259.0" r="0.85"/><circle cx="78.7" cy="255.0" r="0.45"/><circle cx="161.8" cy="259.3" r="0.7"/><circle cx="140.8" cy="227.3" r="0.85"/><circle cx="129.0" cy="235.4" r="1.0"/><circle cx="111.6" cy="231.4" r="0.55"/><circle cx="62.3" cy="223.5" r="0.55"/><circle cx="57.2" cy="256.4" r="0.45"/><circle cx="109.3" cy="224.9" r="0.55"/><circle cx="157.4" cy="225.1" r="0.7"/><circle cx="153.7" cy="258.7" r="1.0"/><circle cx="149.7" cy="218.8" r="0.55"/><circle cx="106.3" cy="253.6" r="1.0"/><circle cx="84.1" cy="232.0" r="0.55"/><circle cx="127.5" cy="230.2" r="0.7"/><circle cx="90.2" cy="218.0" r="0.55"/><circle cx="145.6" cy="234.9" r="0.45"/><circle cx="161.9" cy="236.5" r="0.45"/><circle cx="95.5" cy="254.6" r="0.7"/><circle cx="158.0" cy="237.2" r="0.45"/><circle cx="177.3" cy="251.8" r="0.85"/><circle cx="175.2" cy="259.9" r="0.45"/><circle cx="122.2" cy="227.3" r="0.85"/><circle cx="76.3" cy="227.3" r="0.45"/><circle cx="181.0" cy="224.7" r="0.7"/><circle cx="182.1" cy="260.1" r="0.85"/><circle cx="157.6" cy="248.7" r="0.55"/><circle cx="162.9" cy="253.9" r="0.55"/><circle cx="66.1" cy="221.0" r="1.0"/><circle cx="122.6" cy="217.2" r="0.45"/><circle cx="112.9" cy="217.9" r="1.0"/><circle cx="123.0" cy="219.2" r="0.7"/><circle cx="94.9" cy="241.2" r="0.85"/><circle cx="115.9" cy="244.8" r="0.55"/><circle cx="47.3" cy="225.2" r="0.7"/><circle cx="101.2" cy="220.7" r="1.0"/><circle cx="172.4" cy="258.5" r="0.85"/><circle cx="111.8" cy="242.3" r="0.85"/><circle cx="155.7" cy="241.7" r="0.45"/><circle cx="170.1" cy="223.6" r="0.55"/><circle cx="149.3" cy="237.1" r="0.85"/><circle cx="133.3" cy="221.3" r="0.85"/><circle cx="132.3" cy="218.8" r="0.55"/><circle cx="161.2" cy="256.0" r="0.45"/><circle cx="102.6" cy="251.5" r="0.55"/><circle cx="137.4" cy="249.4" r="0.45"/><circle cx="81.1" cy="256.9" r="0.55"/><circle cx="161.6" cy="217.7" r="0.45"/><circle cx="104.0" cy="258.4" r="0.55"/><circle cx="157.7" cy="218.0" r="1.0"/><circle cx="138.0" cy="257.4" r="0.7"/><circle cx="52.1" cy="237.1" r="0.85"/><circle cx="155.1" cy="220.7" r="0.45"/><circle cx="73.1" cy="252.3" r="0.55"/><circle cx="134.8" cy="230.5" r="1.0"/><circle cx="159.4" cy="256.0" r="0.45"/><circle cx="56.6" cy="217.3" r="0.45"/><circle cx="118.5" cy="243.9" r="1.0"/><circle cx="160.1" cy="240.2" r="0.45"/><circle cx="141.3" cy="243.7" r="0.85"/><circle cx="103.3" cy="216.3" r="0.55"/><circle cx="49.7" cy="253.3" r="0.85"/><circle cx="76.2" cy="247.9" r="0.55"/><circle cx="142.8" cy="260.2" r="1.0"/><circle cx="186.6" cy="240.6" r="0.7"/><circle cx="143.6" cy="220.0" r="0.55"/><circle cx="168.4" cy="254.2" r="0.45"/><circle cx="59.1" cy="228.3" r="0.7"/><circle cx="155.8" cy="222.7" r="1.0"/><circle cx="129.1" cy="231.1" r="0.55"/><circle cx="47.2" cy="219.4" r="0.45"/><circle cx="144.4" cy="250.5" r="0.55"/><circle cx="121.0" cy="236.5" r="0.85"/><circle cx="179.0" cy="241.9" r="0.55"/><circle cx="178.0" cy="249.0" r="0.45"/><circle cx="177.5" cy="253.7" r="0.45"/><circle cx="142.6" cy="222.1" r="0.85"/><circle cx="161.4" cy="218.5" r="1.0"/><circle cx="181.8" cy="235.9" r="0.55"/><circle cx="82.5" cy="229.5" r="0.7"/><circle cx="50.3" cy="233.2" r="0.55"/><circle cx="109.9" cy="260.1" r="0.85"/><circle cx="155.8" cy="253.7" r="0.7"/><circle cx="85.6" cy="227.2" r="0.85"/><circle cx="123.5" cy="231.3" r="1.0"/><circle cx="173.6" cy="257.4" r="0.7"/><circle cx="46.4" cy="250.7" r="0.55"/><circle cx="174.2" cy="251.8" r="1.0"/><circle cx="69.4" cy="217.6" r="0.7"/><circle cx="107.3" cy="231.2" r="0.45"/><circle cx="123.5" cy="259.5" r="0.55"/><circle cx="76.6" cy="218.4" r="1.0"/><circle cx="81.4" cy="257.3" r="1.0"/><circle cx="145.4" cy="259.5" r="0.45"/><circle cx="139.4" cy="225.8" r="0.45"/><circle cx="148.9" cy="235.4" r="0.45"/><circle cx="188.5" cy="223.9" r="0.85"/><circle cx="134.5" cy="223.5" r="0.7"/><circle cx="154.5" cy="227.2" r="0.7"/><circle cx="184.3" cy="220.1" r="0.55"/><circle cx="138.4" cy="243.8" r="1.0"/><circle cx="66.6" cy="219.1" r="0.45"/><circle cx="146.1" cy="229.7" r="0.45"/><circle cx="151.1" cy="240.1" r="0.45"/><circle cx="98.2" cy="222.4" r="0.45"/><circle cx="150.1" cy="245.2" r="1.0"/><circle cx="145.1" cy="228.3" r="0.85"/><circle cx="71.8" cy="220.5" r="0.7"/><circle cx="103.0" cy="247.4" r="0.55"/><circle cx="110.2" cy="248.8" r="0.45"/><circle cx="170.1" cy="236.7" r="0.7"/><circle cx="165.9" cy="217.4" r="0.55"/><circle cx="61.5" cy="225.4" r="0.7"/><circle cx="142.6" cy="228.5" r="0.45"/><circle cx="167.8" cy="219.3" r="0.45"/><circle cx="68.9" cy="245.7" r="1.0"/><circle cx="91.1" cy="227.8" r="0.45"/><circle cx="66.9" cy="220.4" r="0.45"/><circle cx="101.3" cy="245.4" r="1.0"/><circle cx="130.1" cy="218.8" r="0.7"/><circle cx="48.3" cy="254.4" r="0.55"/><circle cx="180.8" cy="232.0" r="1.0"/><circle cx="150.1" cy="222.2" r="0.7"/><circle cx="99.5" cy="223.5" r="0.45"/><circle cx="171.7" cy="256.9" r="0.55"/><circle cx="87.2" cy="233.1" r="0.45"/><circle cx="78.4" cy="224.7" r="0.55"/><circle cx="155.9" cy="254.4" r="0.55"/><circle cx="138.4" cy="237.2" r="0.45"/><circle cx="53.5" cy="245.9" r="0.7"/><circle cx="80.0" cy="217.3" r="0.85"/><circle cx="116.3" cy="220.9" r="1.0"/><circle cx="148.5" cy="220.2" r="0.45"/><circle cx="115.9" cy="257.5" r="0.55"/><circle cx="107.4" cy="218.7" r="0.55"/><circle cx="56.0" cy="232.3" r="0.85"/><circle cx="80.6" cy="231.2" r="0.45"/><circle cx="56.5" cy="226.0" r="0.55"/><circle cx="127.1" cy="255.2" r="0.85"/><circle cx="62.0" cy="258.5" r="1.0"/><circle cx="54.2" cy="239.5" r="1.0"/><circle cx="170.5" cy="225.6" r="0.45"/><circle cx="114.8" cy="237.1" r="0.85"/><circle cx="159.1" cy="221.9" r="0.85"/><circle cx="136.9" cy="220.4" r="0.7"/><circle cx="141.5" cy="232.3" r="0.45"/><circle cx="147.4" cy="237.4" r="0.7"/><circle cx="72.1" cy="216.5" r="1.0"/><circle cx="176.0" cy="245.0" r="0.45"/><circle cx="123.4" cy="226.5" r="0.85"/><circle cx="141.7" cy="222.3" r="0.7"/><circle cx="67.1" cy="252.2" r="0.7"/><circle cx="152.7" cy="254.6" r="0.7"/><circle cx="140.6" cy="245.3" r="0.55"/><circle cx="48.5" cy="236.6" r="0.45"/><circle cx="110.8" cy="254.3" r="0.7"/><circle cx="109.3" cy="222.3" r="0.55"/><circle cx="90.0" cy="230.1" r="0.55"/><circle cx="181.3" cy="234.1" r="0.55"/><circle cx="48.0" cy="258.7" r="0.55"/><circle cx="55.7" cy="232.8" r="0.85"/><circle cx="142.9" cy="225.6" r="0.55"/><circle cx="73.9" cy="237.2" r="0.7"/><circle cx="189.9" cy="236.5" r="0.55"/><circle cx="186.4" cy="250.0" r="0.45"/><circle cx="104.7" cy="231.4" r="0.45"/><circle cx="128.0" cy="250.7" r="0.55"/><circle cx="165.3" cy="216.0" r="1.0"/></g>
</g>
<path d="M46.2 252.2 L90 250.6 L131 248.6 L146.5 246.2 L188.6 217.6" stroke="#111" stroke-width="2.6" fill="none" stroke-linejoin="round"/>
<line x1="189.00" y1="48.00" x2="189.00" y2="218.50" stroke="#222" stroke-width="2.4" />
<line x1="187.40" y1="48.00" x2="187.40" y2="218.00" stroke="#555" stroke-width="0.8" />
<line x1="187.50" y1="48.50" x2="465.50" y2="48.50" stroke="#888" stroke-width="2.0" />
<line x1="197.00" y1="48.50" x2="218.00" y2="48.50" stroke="#111" stroke-width="2.8" />
<line x1="232.00" y1="48.50" x2="253.00" y2="48.50" stroke="#111" stroke-width="2.8" />
<line x1="268.00" y1="48.50" x2="288.00" y2="48.50" stroke="#111" stroke-width="2.8" />
<line x1="303.00" y1="48.50" x2="324.00" y2="48.50" stroke="#111" stroke-width="2.8" />
<line x1="339.00" y1="48.50" x2="360.00" y2="48.50" stroke="#111" stroke-width="2.8" />
<line x1="374.50" y1="48.50" x2="395.00" y2="48.50" stroke="#111" stroke-width="2.8" />
<line x1="409.50" y1="48.50" x2="430.00" y2="48.50" stroke="#111" stroke-width="2.8" />
<line x1="446.50" y1="48.50" x2="465.50" y2="48.50" stroke="#111" stroke-width="2.8" />
<path d="M143 37.8 L219.6 37.8 L246.8 86.0 L403.2 86.0 L427.6 37.8 L506 37.8" stroke="#222" stroke-width="4.3" fill="none" stroke-linejoin="miter"/>
<path d="M143 37.8 L218.6 37.8" stroke="#a6a6a6" stroke-width="2.2" fill="none" />
<path d="M428.6 37.8 L500 37.8" stroke="#a6a6a6" stroke-width="2.2" fill="none" />
<path d="M249 86.0 L401 86.0" stroke="#8c8c8c" stroke-width="1.5" fill="none" />
<path d="M220.6 39.6 L246.2 85.0" stroke="#c8c8c8" stroke-width="1.1" fill="none" stroke-dasharray="1.6 2.2"/>
<path d="M403.8 85.0 L426.8 39.6" stroke="#c8c8c8" stroke-width="1.1" fill="none" stroke-dasharray="1.6 2.2"/>
<path d="M263.0 87 L263.0 113 L264.0 118.8 L265.4 118.8 L266.4 113 L266.4 87 Z" fill="#9a9a9a" stroke="#1e1e1e" stroke-width="1.2"/>
<rect x="262.09999999999997" y="80.8" width="5.2" height="4.0" rx="1.2" fill="#666" stroke="#1e1e1e" stroke-width="1.1"/>
<path d="M322.1 87 L322.1 113 L323.1 118.8 L324.5 118.8 L325.5 113 L325.5 87 Z" fill="#9a9a9a" stroke="#1e1e1e" stroke-width="1.2"/>
<rect x="321.2" y="80.8" width="5.2" height="4.0" rx="1.2" fill="#666" stroke="#1e1e1e" stroke-width="1.1"/>
<path d="M381.1 87 L381.1 113 L382.1 118.8 L383.5 118.8 L384.5 113 L384.5 87 Z" fill="#9a9a9a" stroke="#1e1e1e" stroke-width="1.2"/>
<rect x="380.2" y="80.8" width="5.2" height="4.0" rx="1.2" fill="#666" stroke="#1e1e1e" stroke-width="1.1"/>
<line x1="136.20" y1="27.60" x2="512.00" y2="27.60" stroke="#0e0e0e" stroke-width="3.0" />
<path d="M136.2 26.1 L143.5 26.1 L143.5 53.4 L136.2 55.6 Z" fill="#0e0e0e"/>
<path d="M138.4 54.0 L150.1 75.6 L150.1 121.8 L158.8 117.4" stroke="#0e0e0e" stroke-width="4.0" fill="none" stroke-linejoin="miter" stroke-linecap="butt"/>
<path d="M512 26.1 L505.4 26.1 L505.4 53.4 L512 55.6 Z" fill="#0e0e0e"/>
<path d="M509.8 54.2 L498.7 73.2 L498.7 120.0" stroke="#0e0e0e" stroke-width="3.5" fill="none" stroke-linejoin="miter"/>
<path d="M500.4 121.0 L497.5 121.2 L488.8 117.0" stroke="#0e0e0e" stroke-width="3.3" fill="none" stroke-linejoin="miter"/>
<line x1="496.20" y1="24.50" x2="496.20" y2="69.00" stroke="#333" stroke-width="0.9" />
<circle cx="502.4" cy="38" r="2.5" fill="#111"/>
<circle cx="508.2" cy="36.6" r="0.7" fill="#bbb"/><circle cx="508.2" cy="39.6" r="0.7" fill="#bbb"/>
<rect x="57.9" y="231.8" width="73.4" height="159.2" fill="none" stroke="#1c1c1c" stroke-width="1.3"/>
<path d="M94.2 391 L94.2 540.4 L284 540.4" stroke="#1c1c1c" stroke-width="1.2" fill="none" />
<rect x="342.8" y="264.4" width="153.8" height="75.60000000000002" fill="none" stroke="#1c1c1c" stroke-width="1.3"/>
<line x1="496.60" y1="301.70" x2="737.50" y2="301.70" stroke="#1c1c1c" stroke-width="1.3" />
<line x1="512.00" y1="38.00" x2="705.00" y2="38.00" stroke="#1c1c1c" stroke-width="1.3" />
<line x1="500.00" y1="111.00" x2="698.50" y2="111.00" stroke="#1c1c1c" stroke-width="1.4" />
<line x1="46.20" y1="220.00" x2="46.20" y2="245.00" stroke="#1c1c1c" stroke-width="1.4" />
<line x1="14.50" y1="251.40" x2="40.00" y2="251.40" stroke="#1c1c1c" stroke-width="1.4" />
<line x1="15.00" y1="373.40" x2="40.00" y2="373.40" stroke="#1c1c1c" stroke-width="1.4" />
<line x1="46.20" y1="380.00" x2="46.20" y2="405.00" stroke="#1c1c1c" stroke-width="1.4" />
<line x1="216.50" y1="482.20" x2="242.00" y2="482.20" stroke="#1c1c1c" stroke-width="1.4" />
<line x1="248.40" y1="489.00" x2="248.40" y2="512.50" stroke="#1c1c1c" stroke-width="1.4" />
<line x1="471.00" y1="482.20" x2="496.00" y2="482.20" stroke="#1c1c1c" stroke-width="1.4" />
<line x1="465.20" y1="488.50" x2="465.20" y2="513.00" stroke="#1c1c1c" stroke-width="1.4" />
<text x="572.6" y="32.0" font-size="13.4" font-family="'Liberation Sans', sans-serif" font-style="italic" font-weight="normal" fill="#111" stroke="#111" stroke-width="0.45" textLength="75.2" lengthAdjust="spacingAndGlyphs">Кронштейн</text>
<text x="569.6" y="47.5" font-size="10.0" font-family="'Liberation Sans', sans-serif" font-style="italic" font-weight="bold" fill="#222" stroke="#222" stroke-width="0.15" textLength="133.5" lengthAdjust="spacingAndGlyphs">Для крепления козырька</text>
<text x="572.6" y="104.6" font-size="13.4" font-family="'Liberation Sans', sans-serif" font-style="italic" font-weight="normal" fill="#111" stroke="#111" stroke-width="0.45" textLength="121.6" lengthAdjust="spacingAndGlyphs">Козырёк парапета</text>
<text x="546.8" y="292.7" font-size="10.4" font-family="'Liberation Sans', sans-serif" font-style="italic" font-weight="normal" fill="#111" stroke="#111" stroke-width="0.4" textLength="186" lengthAdjust="spacingAndGlyphs">Система наружной теплоизоляции</text>
<text x="105.6" y="500.6" font-size="14.0" font-family="'Liberation Sans', sans-serif" font-style="italic" font-weight="normal" fill="#111" stroke="#111" stroke-width="0.45" textLength="92.4" lengthAdjust="spacingAndGlyphs">Обустройство</text>
<text x="105.6" y="517.8" font-size="14.0" font-family="'Liberation Sans', sans-serif" font-style="italic" font-weight="normal" fill="#111" stroke="#111" stroke-width="0.45" textLength="81.6" lengthAdjust="spacingAndGlyphs">кровельного</text>
<text x="105.6" y="535.0" font-size="14.0" font-family="'Liberation Sans', sans-serif" font-style="italic" font-weight="normal" fill="#111" stroke="#111" stroke-width="0.45" textLength="182.0" lengthAdjust="spacingAndGlyphs">покрытия согласно проекту</text>
</g>
</svg>
</body>
</html>
